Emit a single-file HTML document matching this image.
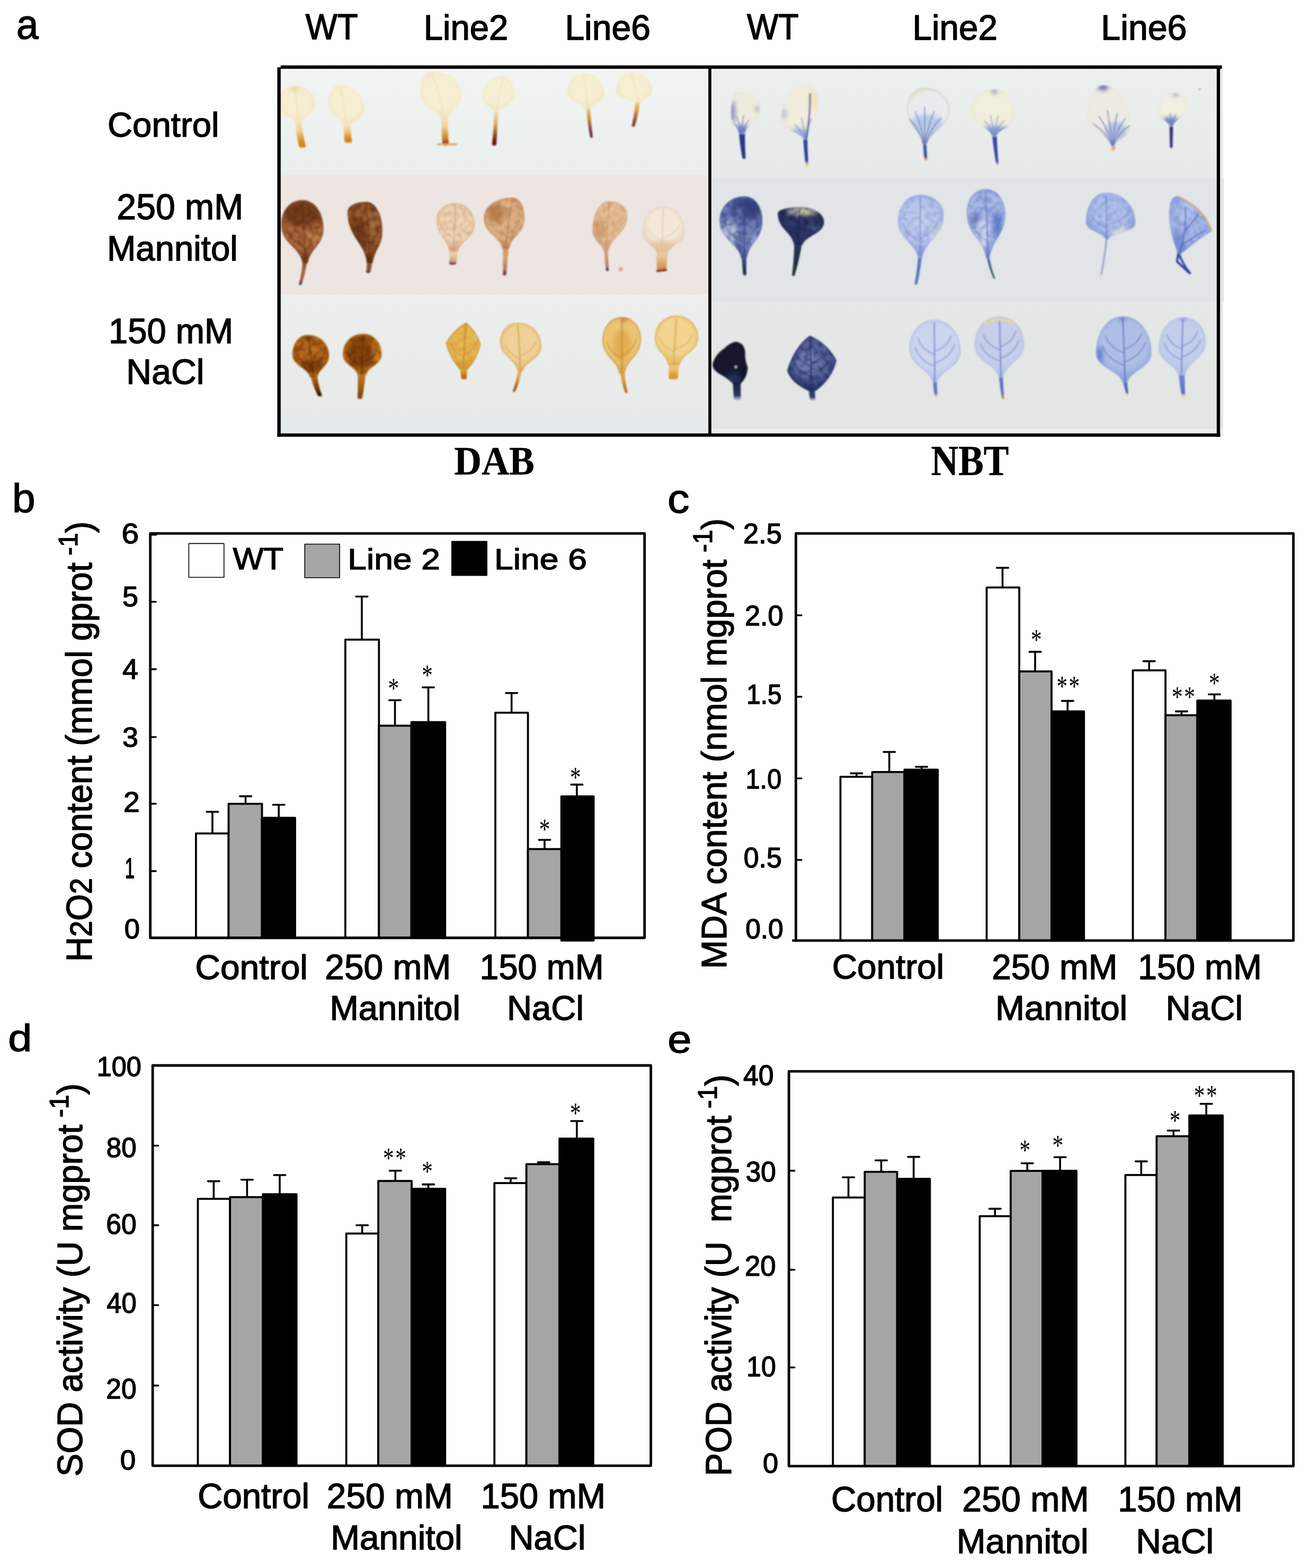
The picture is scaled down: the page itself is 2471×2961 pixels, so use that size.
<!DOCTYPE html>
<html lang="en"><head><meta charset="utf-8"><title>Figure: DAB / NBT staining and oxidative stress assays</title><style>html,body{margin:0;padding:0;background:#fff}body{width:2471px;height:2961px;overflow:hidden;font-family:"Liberation Sans",sans-serif}svg{display:block}</style></head><body>
<svg role="img" aria-label="Figure panels a-e: DAB and NBT leaf staining, H2O2 and MDA content, SOD and POD activity" width="2471" height="2961" viewBox="0 0 2471 2961" style="display:block"><defs><linearGradient id="bgA1" x1="0" y1="0" x2="0" y2="1"><stop offset="0" stop-color="#f1f4f2"/><stop offset="1" stop-color="#e9eeec"/></linearGradient><linearGradient id="bgA3" x1="0" y1="0" x2="0" y2="1"><stop offset="0" stop-color="#eceeed"/><stop offset="0.8" stop-color="#e8ebea"/><stop offset="1" stop-color="#e2e9ed"/></linearGradient><linearGradient id="bgB1" x1="0" y1="0" x2="0" y2="1"><stop offset="0" stop-color="#ebefed"/><stop offset="1" stop-color="#e6eae9"/></linearGradient><linearGradient id="bgB3" x1="0" y1="0" x2="0" y2="1"><stop offset="0" stop-color="#e4e8e6"/><stop offset="1" stop-color="#e2e5e3"/></linearGradient><filter id="bl" x="-20%" y="-20%" width="140%" height="140%"><feGaussianBlur stdDeviation="1.5"/></filter><filter id="bl5" x="-50%" y="-50%" width="200%" height="200%"><feGaussianBlur stdDeviation="4"/></filter><filter id="mot" x="0" y="0" width="100%" height="100%"><feTurbulence type="fractalNoise" baseFrequency="0.11" numOctaves="2" seed="7" result="n"/><feColorMatrix in="n" type="matrix" values="0 0 0 0 0 0 0 0 0 0 0 0 0 0 0 4.5 0 0 0 -1.9" result="a"/><feComposite in="SourceGraphic" in2="a" operator="in"/><feGaussianBlur stdDeviation="1"/></filter><radialGradient id="lg0" gradientUnits="userSpaceOnUse" cx="559.5" cy="191.98" r="38.34"><stop offset="0" stop-color="#f6eed2"/><stop offset="0.62" stop-color="#f6eed2"/><stop offset="1" stop-color="#f3e6c0"/></radialGradient><linearGradient id="lp0" gradientUnits="userSpaceOnUse" x1="563" y1="224" x2="571" y2="278.5"><stop offset="0" stop-color="#f3e6c0"/><stop offset="0.4" stop-color="#f0d49a"/><stop offset="0.82" stop-color="#d8861c"/><stop offset="0.93" stop-color="#d8861c"/></linearGradient><clipPath id="lc0"><path d="M556.4 163 C579.56 163 595 178.3 595 197 C595 214.5 572.84 217.3 569 232 L557 232 C552.32 217.3 524 214.5 524 197 C524 178.3 536.96 163 556.4 163Z"/></clipPath><radialGradient id="lg1" gradientUnits="userSpaceOnUse" cx="653.6" cy="193.75" r="41.2"><stop offset="0" stop-color="#f6eed2"/><stop offset="0.62" stop-color="#f6eed2"/><stop offset="1" stop-color="#f3e6c0"/></radialGradient><linearGradient id="lp1" gradientUnits="userSpaceOnUse" x1="655" y1="230" x2="657.5" y2="269.3"><stop offset="0" stop-color="#f3e6c0"/><stop offset="0.4" stop-color="#efd092"/><stop offset="0.82" stop-color="#d6861c"/><stop offset="0.93" stop-color="#d6861c"/></linearGradient><clipPath id="lc1"><path d="M641.8 161.7 C668.56 161.7 686.4 183.44 686.4 210 C686.4 224 665.27 226.24 661.5 238 L648.5 238 C644.4 219.73 620.8 216.25 620.8 194.5 C620.8 176.46 629.2 161.7 641.8 161.7Z"/></clipPath><radialGradient id="lg2" gradientUnits="userSpaceOnUse" cx="832" cy="172.36" r="47.52"><stop offset="0" stop-color="#f6eed2"/><stop offset="0.62" stop-color="#f6eed2"/><stop offset="1" stop-color="#f3e6c0"/></radialGradient><linearGradient id="lp2" gradientUnits="userSpaceOnUse" x1="838.7" y1="215.4" x2="841.3" y2="274.6"><stop offset="0" stop-color="#f3e6c0"/><stop offset="0.4" stop-color="#f0d49a"/><stop offset="0.82" stop-color="#c8741c"/><stop offset="0.93" stop-color="#8a3a14"/></linearGradient><clipPath id="lc2"><path d="M815 135.4 C848 135.4 870 154.93 870 178.8 C870 201.1 848.46 204.67 844.7 223.4 L832.7 223.4 C827.34 204.67 794 201.1 794 178.8 C794 154.93 802.4 135.4 815 135.4Z"/></clipPath><radialGradient id="lg3" gradientUnits="userSpaceOnUse" cx="940.7" cy="172.91" r="36.4"><stop offset="0" stop-color="#f6eed2"/><stop offset="0.62" stop-color="#f6eed2"/><stop offset="1" stop-color="#f3e6c0"/></radialGradient><linearGradient id="lp3" gradientUnits="userSpaceOnUse" x1="936.8" y1="204" x2="932.8" y2="274.6"><stop offset="0" stop-color="#f3e6c0"/><stop offset="0.4" stop-color="#e4b068"/><stop offset="0.82" stop-color="#7c2c0e"/><stop offset="0.93" stop-color="#5a1c0a"/></linearGradient><clipPath id="lc3"><path d="M949.9 144.6 C961.72 144.6 969.6 161.16 969.6 181.4 C969.6 196.7 944.24 199.15 940.3 212 L933.3 212 C930.3 200.24 911.8 198 911.8 184 C911.8 162.33 927.04 144.6 949.9 144.6Z"/></clipPath><radialGradient id="lg4" gradientUnits="userSpaceOnUse" cx="1106" cy="166.95" r="36.72"><stop offset="0" stop-color="#f6eed2"/><stop offset="0.62" stop-color="#f6eed2"/><stop offset="1" stop-color="#f3e6c0"/></radialGradient><linearGradient id="lp4" gradientUnits="userSpaceOnUse" x1="1110" y1="197" x2="1116.6" y2="260"><stop offset="0" stop-color="#f3e6c0"/><stop offset="0.4" stop-color="#d4923e"/><stop offset="0.82" stop-color="#6c3050"/><stop offset="0.93" stop-color="#6c3050"/></linearGradient><clipPath id="lc4"><path d="M1100.8 139.4 C1124.32 139.4 1140 157.13 1140 178.8 C1140 191.9 1117.6 194 1114 205 L1106 205 C1101.44 192.82 1072 190.5 1072 176 C1072 155.87 1083.52 139.4 1100.8 139.4Z"/></clipPath><radialGradient id="lg5" gradientUnits="userSpaceOnUse" cx="1197.3" cy="160.4" r="36.18"><stop offset="0" stop-color="#f6eed2"/><stop offset="0.62" stop-color="#f6eed2"/><stop offset="1" stop-color="#f3e6c0"/></radialGradient><linearGradient id="lp5" gradientUnits="userSpaceOnUse" x1="1204.5" y1="185" x2="1195.4" y2="239"><stop offset="0" stop-color="#f3e6c0"/><stop offset="0.4" stop-color="#e4a440"/><stop offset="0.82" stop-color="#8c4038"/><stop offset="0.93" stop-color="#8c4038"/></linearGradient><clipPath id="lc5"><path d="M1191.4 136.8 C1215.04 136.8 1230.8 153.31 1230.8 173.5 C1230.8 183.25 1212.16 184.81 1209 193 L1200 193 C1195.12 185.86 1163.8 184.5 1163.8 176 C1163.8 154.44 1174.84 136.8 1191.4 136.8Z"/></clipPath><radialGradient id="lg6" gradientUnits="userSpaceOnUse" cx="570.75" cy="427.79" r="63.5"><stop offset="0" stop-color="#aa683a"/><stop offset="0.62" stop-color="#aa683a"/><stop offset="1" stop-color="#7c4020"/></radialGradient><linearGradient id="lp6" gradientUnits="userSpaceOnUse" x1="576" y1="488" x2="566.8" y2="537.8"><stop offset="0" stop-color="#7c4020"/><stop offset="0.4" stop-color="#a66640"/><stop offset="0.82" stop-color="#9a5a44"/><stop offset="0.93" stop-color="#5a2c44"/></linearGradient><clipPath id="lc6"><path d="M570.3 378.4 C594.12 378.4 610 402.07 610 431 C610 463.5 584.58 468.7 580.5 496 L571.5 496 C566.16 465.76 531.5 460 531.5 424 C531.5 398.92 547.02 378.4 570.3 378.4Z"/></clipPath><radialGradient id="lg7" gradientUnits="userSpaceOnUse" cx="688.85" cy="429.88" r="61.56"><stop offset="0" stop-color="#9c5c2e"/><stop offset="0.62" stop-color="#9c5c2e"/><stop offset="1" stop-color="#643214"/></radialGradient><linearGradient id="lp7" gradientUnits="userSpaceOnUse" x1="698" y1="488" x2="695" y2="515"><stop offset="0" stop-color="#643214"/><stop offset="0.4" stop-color="#8c5030"/><stop offset="0.82" stop-color="#8a5040"/><stop offset="0.93" stop-color="#5a2c44"/></linearGradient><clipPath id="lc7"><path d="M691.4 382 C709.16 382 721 406.3 721 436 C721 466 705.76 470.8 703 496 L693 496 C688.04 455.68 656.7 448 656.7 400 C656.7 390.1 670.58 382 691.4 382Z"/></clipPath><radialGradient id="lg8" gradientUnits="userSpaceOnUse" cx="859.85" cy="422.03" r="48.38"><stop offset="0" stop-color="#eed6b6"/><stop offset="0.62" stop-color="#eed6b6"/><stop offset="1" stop-color="#dcae86"/></radialGradient><linearGradient id="lp8" gradientUnits="userSpaceOnUse" x1="856.5" y1="466" x2="854.5" y2="499.4"><stop offset="0" stop-color="#dcae86"/><stop offset="0.4" stop-color="#ecd0ac"/><stop offset="0.82" stop-color="#d0a080"/><stop offset="0.93" stop-color="#7a4058"/></linearGradient><clipPath id="lc8"><path d="M860.4 384.4 C881.28 384.4 895.2 402.22 895.2 424 C895.2 449 869.14 453 864.5 474 L848.5 474 C844.66 448.93 824.5 444.15 824.5 414.3 C824.5 397.86 838.86 384.4 860.4 384.4Z"/></clipPath><radialGradient id="lg9" gradientUnits="userSpaceOnUse" cx="951.75" cy="414.09" r="52.06"><stop offset="0" stop-color="#deb286"/><stop offset="0.62" stop-color="#deb286"/><stop offset="1" stop-color="#c89060"/></radialGradient><linearGradient id="lp9" gradientUnits="userSpaceOnUse" x1="954.7" y1="462" x2="952.4" y2="519.8"><stop offset="0" stop-color="#c89060"/><stop offset="0.4" stop-color="#d4a474"/><stop offset="0.82" stop-color="#b07858"/><stop offset="0.93" stop-color="#6a3448"/></linearGradient><clipPath id="lc9"><path d="M968 373.6 C980.9 373.6 989.5 390.88 989.5 412 C989.5 441 964.38 445.64 960.2 470 L949.2 470 C944.32 445.64 914 441 914 412 C914 390.88 935.6 373.6 968 373.6Z"/></clipPath><radialGradient id="lg10" gradientUnits="userSpaceOnUse" cx="1151.35" cy="419.94" r="50.33"><stop offset="0" stop-color="#e6c098"/><stop offset="0.62" stop-color="#e6c098"/><stop offset="1" stop-color="#d4a47c"/></radialGradient><linearGradient id="lp10" gradientUnits="userSpaceOnUse" x1="1144" y1="466" x2="1146.6" y2="511.4"><stop offset="0" stop-color="#d4a47c"/><stop offset="0.4" stop-color="#d49c7c"/><stop offset="0.82" stop-color="#b07868"/><stop offset="0.93" stop-color="#6a3450"/></linearGradient><clipPath id="lc10"><path d="M1150.2 380.8 C1170.3 380.8 1183.7 392.59 1183.7 407 C1183.7 440.5 1152.76 445.86 1148 474 L1140 474 C1137 458.04 1119 455 1119 436 C1119 405.64 1131.48 380.8 1150.2 380.8Z"/></clipPath><radialGradient id="lg11" gradientUnits="userSpaceOnUse" cx="1252.65" cy="426.29" r="46.28"><stop offset="0" stop-color="#f2e8da"/><stop offset="0.62" stop-color="#f2e8da"/><stop offset="1" stop-color="#e8ceb2"/></radialGradient><linearGradient id="lp11" gradientUnits="userSpaceOnUse" x1="1250" y1="468" x2="1248.5" y2="512.6"><stop offset="0" stop-color="#e8ceb2"/><stop offset="0.4" stop-color="#e6c494"/><stop offset="0.82" stop-color="#d09458"/><stop offset="0.93" stop-color="#d09458"/></linearGradient><clipPath id="lc11"><path d="M1252 390.3 C1275.76 390.3 1291.6 412.98 1291.6 440.7 C1291.6 458.35 1265.99 461.17 1261 476 L1239 476 C1234.64 461.17 1213.7 458.35 1213.7 440.7 C1213.7 412.98 1229.02 390.3 1252 390.3Z"/></clipPath><radialGradient id="lg12" gradientUnits="userSpaceOnUse" cx="586.55" cy="666.18" r="42.66"><stop offset="0" stop-color="#b4661c"/><stop offset="0.62" stop-color="#b4661c"/><stop offset="1" stop-color="#b87018"/></radialGradient><linearGradient id="lp12" gradientUnits="userSpaceOnUse" x1="592" y1="704" x2="604" y2="748"><stop offset="0" stop-color="#b87018"/><stop offset="0.4" stop-color="#9a5014"/><stop offset="0.82" stop-color="#5a2808"/><stop offset="0.93" stop-color="#2c1406"/></linearGradient><clipPath id="lc12"><path d="M581 633 C604.82 633 620.7 650.33 620.7 671.5 C620.7 691.75 601.94 694.99 598.5 712 L585.5 712 C580.75 693.94 552.4 690.5 552.4 669 C552.4 649.2 563.84 633 581 633Z"/></clipPath><radialGradient id="lg13" gradientUnits="userSpaceOnUse" cx="683.75" cy="663.22" r="41.69"><stop offset="0" stop-color="#a45a16"/><stop offset="0.62" stop-color="#a45a16"/><stop offset="1" stop-color="#c07a1e"/></radialGradient><linearGradient id="lp13" gradientUnits="userSpaceOnUse" x1="683" y1="700" x2="679.4" y2="753"><stop offset="0" stop-color="#c07a1e"/><stop offset="0.4" stop-color="#b06a1a"/><stop offset="0.82" stop-color="#8a4810"/><stop offset="0.93" stop-color="#8a4810"/></linearGradient><clipPath id="lc13"><path d="M685.4 630.8 C706.16 630.8 720 647.99 720 669 C720 688.5 694.94 691.62 690.5 708 L675.5 708 C671.24 691.62 647.5 688.5 647.5 669 C647.5 647.99 662.66 630.8 685.4 630.8Z"/></clipPath><radialGradient id="lg14" gradientUnits="userSpaceOnUse" cx="874.5" cy="646.35" r="46.22"><stop offset="0" stop-color="#e6b854"/><stop offset="0.62" stop-color="#e6b854"/><stop offset="1" stop-color="#d8a038"/></radialGradient><linearGradient id="lp14" gradientUnits="userSpaceOnUse" x1="875" y1="688" x2="876" y2="716"><stop offset="0" stop-color="#d8a038"/><stop offset="0.4" stop-color="#e0a038"/><stop offset="0.82" stop-color="#c06818"/><stop offset="0.93" stop-color="#c06818"/></linearGradient><clipPath id="lc14"><path d="M880 610 Q900 628 906.5 650 Q900 678 882 697 L868 697 Q848 672 842.5 648 Q858 622 880 610Z"/></clipPath><radialGradient id="lg15" gradientUnits="userSpaceOnUse" cx="982.85" cy="648.03" r="48.38"><stop offset="0" stop-color="#f0d096"/><stop offset="0.62" stop-color="#f0d096"/><stop offset="1" stop-color="#e6b86c"/></radialGradient><linearGradient id="lp15" gradientUnits="userSpaceOnUse" x1="982.3" y1="692" x2="970.3" y2="739.8"><stop offset="0" stop-color="#e6b86c"/><stop offset="0.4" stop-color="#e2aa54"/><stop offset="0.82" stop-color="#a85818"/><stop offset="0.93" stop-color="#a85818"/></linearGradient><clipPath id="lc15"><path d="M977.5 610.4 C1003.42 610.4 1020.7 630.34 1020.7 654.7 C1020.7 677.35 990.91 680.97 986.3 700 L978.3 700 C973.82 676.9 945 672.5 945 645 C945 625.97 958 610.4 977.5 610.4Z"/></clipPath><radialGradient id="lg16" gradientUnits="userSpaceOnUse" cx="1173.5" cy="643.45" r="56.38"><stop offset="0" stop-color="#ecc474"/><stop offset="0.62" stop-color="#ecc474"/><stop offset="1" stop-color="#e0ac50"/></radialGradient><linearGradient id="lp16" gradientUnits="userSpaceOnUse" x1="1174" y1="696" x2="1182.5" y2="742"><stop offset="0" stop-color="#e0ac50"/><stop offset="0.4" stop-color="#e0a242"/><stop offset="0.82" stop-color="#c07020"/><stop offset="0.93" stop-color="#c07020"/></linearGradient><clipPath id="lc16"><path d="M1174 599.6 C1195 599.6 1209 617.91 1209 640.3 C1209 672.15 1182.7 677.25 1178.5 704 L1169.5 704 C1165.18 678.25 1138 673.35 1138 642.7 C1138 619 1152.4 599.6 1174 599.6Z"/></clipPath><radialGradient id="lg17" gradientUnits="userSpaceOnUse" cx="1276.9" cy="635.22" r="49.14"><stop offset="0" stop-color="#f2d490"/><stop offset="0.62" stop-color="#f2d490"/><stop offset="1" stop-color="#e8bc68"/></radialGradient><linearGradient id="lp17" gradientUnits="userSpaceOnUse" x1="1272" y1="680" x2="1271" y2="716"><stop offset="0" stop-color="#e8bc68"/><stop offset="0.4" stop-color="#eec474"/><stop offset="0.82" stop-color="#dc9830"/><stop offset="0.93" stop-color="#dc9830"/></linearGradient><clipPath id="lc17"><path d="M1277 597 C1300.88 597 1316.8 615.45 1316.8 638 C1316.8 663 1287.38 667 1282 688 L1262 688 C1257.8 667 1237 663 1237 638 C1237 615.45 1253 597 1277 597Z"/></clipPath><radialGradient id="lg18" gradientUnits="userSpaceOnUse" cx="1407.1" cy="207.22" r="41.69"><stop offset="0" stop-color="#efebde"/><stop offset="0.62" stop-color="#efebde"/><stop offset="1" stop-color="#e4e4e0"/></radialGradient><linearGradient id="lp18" gradientUnits="userSpaceOnUse" x1="1400.3" y1="244" x2="1404.4" y2="299.5"><stop offset="0" stop-color="#2c3c90"/><stop offset="0.82" stop-color="#283480"/><stop offset="0.93" stop-color="#283480"/></linearGradient><clipPath id="lc18"><path d="M1392 174.8 C1417.5 174.8 1434.5 188.39 1434.5 205 C1434.5 228.5 1410.4 232.26 1406.3 252 L1394.3 252 C1391.83 236.88 1379.7 234 1379.7 216 C1379.7 193.34 1384.62 174.8 1392 174.8Z"/></clipPath><radialGradient id="lg19" gradientUnits="userSpaceOnUse" cx="1508.85" cy="203.63" r="54.81"><stop offset="0" stop-color="#f1ecdc"/><stop offset="0.62" stop-color="#f1ecdc"/><stop offset="1" stop-color="#e8e6dc"/></radialGradient><linearGradient id="lp19" gradientUnits="userSpaceOnUse" x1="1520" y1="254.5" x2="1523.6" y2="314.5"><stop offset="0" stop-color="#3848a0"/><stop offset="0.82" stop-color="#283890"/><stop offset="0.93" stop-color="#e8c890"/></linearGradient><clipPath id="lc19"><path d="M1526.3 161 C1536.92 161 1544 175.85 1544 194 C1544 228.25 1526.88 233.73 1524 262.5 L1516 262.5 C1510.44 248.68 1473.7 246.05 1473.7 229.6 C1473.7 191.87 1494.74 161 1526.3 161Z"/></clipPath><radialGradient id="lg20" gradientUnits="userSpaceOnUse" cx="1752.25" cy="211.46" r="57.67"><stop offset="0" stop-color="#e8ecf0"/><stop offset="0.62" stop-color="#e8ecf0"/><stop offset="1" stop-color="#d8c8a8"/></radialGradient><linearGradient id="lp20" gradientUnits="userSpaceOnUse" x1="1745.5" y1="265.4" x2="1748" y2="303.6"><stop offset="0" stop-color="#5068b8"/><stop offset="0.82" stop-color="#384898"/><stop offset="0.93" stop-color="#eca860"/></linearGradient><clipPath id="lc20"><path d="M1745.5 166.6 C1773.1 166.6 1791.5 185.09 1791.5 207.7 C1791.5 240.55 1754.52 245.81 1749 273.4 L1742 273.4 C1738.1 244.67 1713 239.2 1713 205 C1713 183.88 1726 166.6 1745.5 166.6Z"/></clipPath><radialGradient id="lg21" gradientUnits="userSpaceOnUse" cx="1875.15" cy="206.13" r="47.36"><stop offset="0" stop-color="#f2eedc"/><stop offset="0.62" stop-color="#f2eedc"/><stop offset="1" stop-color="#ece8d4"/></radialGradient><linearGradient id="lp21" gradientUnits="userSpaceOnUse" x1="1877" y1="249" x2="1883.8" y2="317.3"><stop offset="0" stop-color="#3448a8"/><stop offset="0.82" stop-color="#3848a0"/><stop offset="0.93" stop-color="#f0e8d0"/></linearGradient><clipPath id="lc21"><path d="M1877 169.3 C1899.98 169.3 1915.3 192.75 1915.3 221.4 C1915.3 239.2 1886.1 242.05 1881.5 257 L1872.5 257 C1867.46 238.1 1835 234.5 1835 212 C1835 188.52 1851.8 169.3 1877 169.3Z"/></clipPath><radialGradient id="lg22" gradientUnits="userSpaceOnUse" cx="2093.35" cy="208.88" r="61.56"><stop offset="0" stop-color="#eeece2"/><stop offset="0.62" stop-color="#eeece2"/><stop offset="1" stop-color="#e8e4d4"/></radialGradient><linearGradient id="lp22" gradientUnits="userSpaceOnUse" x1="2101.6" y1="267" x2="2101.6" y2="284.4"><stop offset="0" stop-color="#8090c8"/><stop offset="0.82" stop-color="#ecb070"/><stop offset="0.93" stop-color="#ecb070"/></linearGradient><clipPath id="lc22"><path d="M2082.5 161 C2112.8 161 2133 198.03 2133 243.3 C2133 259.15 2109.37 261.69 2105.6 275 L2097.6 275 C2091.85 253.58 2053.7 249.5 2053.7 224 C2053.7 189.35 2065.22 161 2082.5 161Z"/></clipPath><radialGradient id="lg23" gradientUnits="userSpaceOnUse" cx="2214" cy="202.04" r="33.48"><stop offset="0" stop-color="#f1efe2"/><stop offset="0.62" stop-color="#f1efe2"/><stop offset="1" stop-color="#ebe8d8"/></radialGradient><linearGradient id="lp23" gradientUnits="userSpaceOnUse" x1="2211" y1="230" x2="2211" y2="279"><stop offset="0" stop-color="#2c3080"/><stop offset="0.82" stop-color="#3c3088"/><stop offset="0.93" stop-color="#3c3088"/></linearGradient><clipPath id="lc23"><path d="M2219.5 176 C2232.64 176 2241.4 187.7 2241.4 202 C2241.4 220 2218.15 222.88 2214.5 238 L2207.5 238 C2204.57 227.5 2186.6 225.5 2186.6 213 C2186.6 192.65 2199.76 176 2219.5 176Z"/></clipPath><radialGradient id="lg24" gradientUnits="userSpaceOnUse" cx="1398.8" cy="420.43" r="62.91"><stop offset="0" stop-color="#6c7cb8"/><stop offset="0.62" stop-color="#6c7cb8"/><stop offset="1" stop-color="#5060a4"/></radialGradient><linearGradient id="lp24" gradientUnits="userSpaceOnUse" x1="1404.4" y1="480" x2="1405.8" y2="519.5"><stop offset="0" stop-color="#4858a0"/><stop offset="0.82" stop-color="#183048"/><stop offset="0.93" stop-color="#183048"/></linearGradient><clipPath id="lc24"><path d="M1405.8 371.5 C1425.48 371.5 1438.6 391.84 1438.6 416.7 C1438.6 452.35 1413 458.05 1408.9 488 L1399.9 488 C1394.45 458.05 1359 452.35 1359 416.7 C1359 391.84 1377.72 371.5 1405.8 371.5Z"/></clipPath><radialGradient id="lg25" gradientUnits="userSpaceOnUse" cx="1511.9" cy="421.4" r="46.55"><stop offset="0" stop-color="#303868"/><stop offset="0.62" stop-color="#303868"/><stop offset="1" stop-color="#262c58"/></radialGradient><linearGradient id="lp25" gradientUnits="userSpaceOnUse" x1="1507" y1="454" x2="1497.5" y2="520.8"><stop offset="0" stop-color="#283058"/><stop offset="0.82" stop-color="#1c3040"/><stop offset="0.93" stop-color="#1c3040"/></linearGradient><clipPath id="lc25"><path d="M1510 392 C1537 392 1555 404.38 1555 419.5 C1555 440.75 1520.26 444.15 1514.5 462 L1499.5 462 C1494.92 437.22 1468.8 432.5 1468.8 403 C1468.8 396.95 1485.28 392 1510 392Z"/></clipPath><radialGradient id="lg26" gradientUnits="userSpaceOnUse" cx="1738.25" cy="418.44" r="63.83"><stop offset="0" stop-color="#b8c6ea"/><stop offset="0.62" stop-color="#b8c6ea"/><stop offset="1" stop-color="#8ca2dc"/></radialGradient><linearGradient id="lp26" gradientUnits="userSpaceOnUse" x1="1737" y1="479" x2="1729" y2="537"><stop offset="0" stop-color="#6078c0"/><stop offset="0.82" stop-color="#5870b8"/><stop offset="0.93" stop-color="#5870b8"/></linearGradient><clipPath id="lc26"><path d="M1737.3 368.8 C1763.22 368.8 1780.5 385.45 1780.5 405.8 C1780.5 446.4 1745.72 452.9 1740.5 487 L1733.5 487 C1728.58 457.47 1696 451.85 1696 416.7 C1696 390.36 1712.52 368.8 1737.3 368.8Z"/></clipPath><radialGradient id="lg27" gradientUnits="userSpaceOnUse" cx="1861.25" cy="412.48" r="70.31"><stop offset="0" stop-color="#a8b8e4"/><stop offset="0.62" stop-color="#a8b8e4"/><stop offset="1" stop-color="#7890d4"/></radialGradient><linearGradient id="lp27" gradientUnits="userSpaceOnUse" x1="1864.7" y1="480" x2="1877" y2="526.3"><stop offset="0" stop-color="#4c6c98"/><stop offset="0.82" stop-color="#2c5060"/><stop offset="0.93" stop-color="#2c5060"/></linearGradient><clipPath id="lc27"><path d="M1860.5 357.8 C1882.4 357.8 1897 378.14 1897 403 C1897 445.5 1871.08 452.3 1867.2 488 L1862.2 488 C1857.5 451.04 1825.5 444 1825.5 400 C1825.5 376.79 1839.5 357.8 1860.5 357.8Z"/></clipPath><radialGradient id="lg28" gradientUnits="userSpaceOnUse" cx="2096.55" cy="401.37" r="49.84"><stop offset="0" stop-color="#b0c0e8"/><stop offset="0.62" stop-color="#b0c0e8"/><stop offset="1" stop-color="#8ca2dc"/></radialGradient><linearGradient id="lp28" gradientUnits="userSpaceOnUse" x1="2089.3" y1="444" x2="2078.4" y2="519.5"><stop offset="0" stop-color="#a4b2d4"/><stop offset="0.82" stop-color="#8c98c0"/><stop offset="0.93" stop-color="#8c98c0"/></linearGradient><clipPath id="lc28"><path d="M2088 364.7 C2120.82 364.7 2142.7 390.49 2142.7 422 C2142.7 437 2097.71 439.4 2091.3 452 L2087.3 452 C2082.63 438.35 2050.4 435.75 2050.4 419.5 C2050.4 389.36 2065.44 364.7 2088 364.7Z"/></clipPath><radialGradient id="lg29" gradientUnits="userSpaceOnUse" cx="2247.55" cy="416.2" r="59.4"><stop offset="0" stop-color="#a4b6e6"/><stop offset="0.62" stop-color="#a4b6e6"/><stop offset="1" stop-color="#8098d8"/></radialGradient><linearGradient id="lp29" gradientUnits="userSpaceOnUse" x1="2224" y1="472" x2="2246.8" y2="516.7"><stop offset="0" stop-color="#3850a8"/><stop offset="0.82" stop-color="#3048a0"/><stop offset="0.93" stop-color="#3048a0"/></linearGradient><clipPath id="lc29"><path d="M2221 371 Q2272 392 2287 436 Q2260 452 2226 482 Q2203 430 2209 388 Q2212 373 2221 371Z"/></clipPath><radialGradient id="lg30" gradientUnits="userSpaceOnUse" cx="1378.25" cy="678.76" r="42.12"><stop offset="0" stop-color="#13172f"/><stop offset="0.62" stop-color="#13172f"/><stop offset="1" stop-color="#0c1028"/></radialGradient><linearGradient id="lp30" gradientUnits="userSpaceOnUse" x1="1390.7" y1="716" x2="1392" y2="754.4"><stop offset="0" stop-color="#161a38"/><stop offset="0.82" stop-color="#2c3864"/><stop offset="0.93" stop-color="#8c98b8"/></linearGradient><clipPath id="lc30"><path d="M1389 646 Q1404 648 1406 664 Q1405 680 1411 694 Q1410 712 1398 724 L1384 724 Q1372 712 1356 704 Q1344 696 1346 686 Q1352 668 1368 658 Q1378 648 1389 646Z"/></clipPath><radialGradient id="lg31" gradientUnits="userSpaceOnUse" cx="1532.5" cy="677.84" r="55.08"><stop offset="0" stop-color="#56649c"/><stop offset="0.62" stop-color="#56649c"/><stop offset="1" stop-color="#2c3870"/></radialGradient><linearGradient id="lp31" gradientUnits="userSpaceOnUse" x1="1532" y1="729" x2="1534.5" y2="755.8"><stop offset="0" stop-color="#283468"/><stop offset="0.82" stop-color="#34407c"/><stop offset="0.93" stop-color="#a8a0a8"/></linearGradient><clipPath id="lc31"><path d="M1529 635 Q1562 650 1578 681 Q1570 714 1540 737 L1526 737 Q1494 722 1487 700 Q1500 656 1529 635Z"/></clipPath><radialGradient id="lg32" gradientUnits="userSpaceOnUse" cx="1765.05" cy="654.14" r="63.18"><stop offset="0" stop-color="#ccd4ee"/><stop offset="0.62" stop-color="#ccd4ee"/><stop offset="1" stop-color="#b4c0e6"/></radialGradient><linearGradient id="lp32" gradientUnits="userSpaceOnUse" x1="1764.7" y1="714" x2="1767.4" y2="750.3"><stop offset="0" stop-color="#6c7cc8"/><stop offset="0.82" stop-color="#6070c0"/><stop offset="0.93" stop-color="#e4d890"/></linearGradient><clipPath id="lc32"><path d="M1763.3 605 C1792.88 605 1812.6 631.55 1812.6 664 C1812.6 693 1774.45 697.64 1768.7 722 L1760.7 722 C1755.04 695.33 1717.5 690.25 1717.5 658.5 C1717.5 629.08 1735.82 605 1763.3 605Z"/></clipPath><radialGradient id="lg33" gradientUnits="userSpaceOnUse" cx="1886.3" cy="646" r="61.45"><stop offset="0" stop-color="#c6ceea"/><stop offset="0.62" stop-color="#c6ceea"/><stop offset="1" stop-color="#b4c0e6"/></radialGradient><linearGradient id="lp33" gradientUnits="userSpaceOnUse" x1="1889.3" y1="704" x2="1893.4" y2="753"><stop offset="0" stop-color="#6c7cc8"/><stop offset="0.82" stop-color="#5c6cc0"/><stop offset="0.93" stop-color="#b88848"/></linearGradient><clipPath id="lc33"><path d="M1886.6 598.2 C1914.2 598.2 1932.6 621.64 1932.6 650.3 C1932.6 681.15 1898.5 686.09 1893.3 712 L1885.3 712 C1879.38 687.22 1840 682.5 1840 653 C1840 622.86 1858.64 598.2 1886.6 598.2Z"/></clipPath><radialGradient id="lg34" gradientUnits="userSpaceOnUse" cx="2121.25" cy="650.2" r="66.85"><stop offset="0" stop-color="#aebee6"/><stop offset="0.62" stop-color="#aebee6"/><stop offset="1" stop-color="#8ca0dc"/></radialGradient><linearGradient id="lp34" gradientUnits="userSpaceOnUse" x1="2123.6" y1="714" x2="2129" y2="747.5"><stop offset="0" stop-color="#5870c0"/><stop offset="0.82" stop-color="#5068b8"/><stop offset="0.93" stop-color="#ecdca8"/></linearGradient><clipPath id="lc34"><path d="M2119.5 598.2 C2151.54 598.2 2172.9 629.03 2172.9 666.7 C2172.9 694.35 2133.52 698.77 2127.6 722 L2119.6 722 C2113.12 698.77 2069.6 694.35 2069.6 666.7 C2069.6 629.03 2089.56 598.2 2119.5 598.2Z"/></clipPath><radialGradient id="lg35" gradientUnits="userSpaceOnUse" cx="2231.8" cy="645.13" r="58.54"><stop offset="0" stop-color="#c2ceea"/><stop offset="0.62" stop-color="#c2ceea"/><stop offset="1" stop-color="#b0bee6"/></radialGradient><linearGradient id="lp35" gradientUnits="userSpaceOnUse" x1="2230.4" y1="700" x2="2234.5" y2="751.6"><stop offset="0" stop-color="#7c8cd0"/><stop offset="0.82" stop-color="#5c6cc4"/><stop offset="0.93" stop-color="#ecd8a0"/></linearGradient><clipPath id="lc35"><path d="M2233 599.6 C2258.56 599.6 2275.6 619.94 2275.6 644.8 C2275.6 676.4 2241.82 681.46 2236.4 708 L2224.4 708 C2219.31 687.21 2188 683.25 2188 658.5 C2188 626.11 2206 599.6 2233 599.6Z"/></clipPath></defs><rect width="2471" height="2961" fill="#fff"/><g id="photo">
<rect x="527" y="126" width="813" height="205" fill="url(#bgA1)"/>
<rect x="527" y="331" width="813" height="226.5" fill="#ece5e2"/>
<rect x="527" y="557.5" width="813" height="264.5" fill="url(#bgA3)"/>
<rect x="1340" y="126" width="969" height="210" fill="url(#bgB1)"/>
<rect x="1340" y="336" width="970" height="234" fill="#e2e5e7"/>
<rect x="1340" y="570" width="969" height="252" fill="url(#bgB3)"/>
<rect x="1340" y="809.5" width="969" height="10" fill="#e9eeee"/>
<g filter="url(#bl)">
<path d="M557 226 Q559.31 255.25 564.5 277.5 Q571 280.5 577.5 277.5 Q571.81 255.25 569 226Z" fill="url(#lp0)"/>
<path d="M556.4 163 C579.56 163 595 178.3 595 197 C595 214.5 572.84 217.3 569 232 L557 232 C552.32 217.3 524 214.5 524 197 C524 178.3 536.96 163 556.4 163Z" fill="url(#lg0)" opacity="1.0" stroke="#f3e6c0" stroke-width="1.4" stroke-opacity="0.85"/>
<g clip-path="url(#lc0)">
<g filter="url(#bl5)">
<ellipse cx="556" cy="167" rx="10" ry="5" fill="#eccb86" opacity="0.7"/>
</g>
<path d="M563 232 Q561.02 197.5 556.4 167" fill="none" stroke="#ecd49c" stroke-width="2.4" opacity="0.5"/>
</g>
</g>
<g filter="url(#bl)">
<path d="M648.5 232 Q649.05 253.65 650.5 268.3 Q657.5 271.3 664.5 268.3 Q662.55 253.65 661.5 232Z" fill="url(#lp1)"/>
<path d="M641.8 161.7 C668.56 161.7 686.4 183.44 686.4 210 C686.4 224 665.27 226.24 661.5 238 L648.5 238 C644.4 219.73 620.8 216.25 620.8 194.5 C620.8 176.46 629.2 161.7 641.8 161.7Z" fill="url(#lg1)" opacity="1.0" stroke="#f3e6c0" stroke-width="1.4" stroke-opacity="0.85"/>
<g clip-path="url(#lc1)">
<path d="M655 238 Q651.04 199.85 641.8 165.7" fill="none" stroke="#ecd49c" stroke-width="2.4" opacity="0.5"/>
</g>
</g>
<g filter="url(#bl)">
<path d="M832.7 217.4 Q833.53 249 835.3 273.6 Q841.3 276.6 847.3 273.6 Q845.53 249 844.7 217.4Z" fill="url(#lp2)"/>
<path d="M815 135.4 C848 135.4 870 154.93 870 178.8 C870 201.1 848.46 204.67 844.7 223.4 L832.7 223.4 C827.34 204.67 794 201.1 794 178.8 C794 154.93 802.4 135.4 815 135.4Z" fill="url(#lg2)" opacity="1.0" stroke="#f3e6c0" stroke-width="1.4" stroke-opacity="0.85"/>
<g clip-path="url(#lc2)">
<path d="M838.7 223.4 Q831.59 179.4 815 139.4" fill="none" stroke="#eedaa6" stroke-width="2.4" opacity="0.5"/>
</g>
<path d="M826 272.5H862" stroke="#dfa468" stroke-width="3.5" stroke-linecap="round" fill="none"/>
</g>
<g filter="url(#bl)">
<path d="M933.3 206 Q931.77 243.3 928.8 273.6 Q932.8 276.6 936.8 273.6 Q939.27 243.3 940.3 206Z" fill="url(#lp3)"/>
<path d="M949.9 144.6 C961.72 144.6 969.6 161.16 969.6 181.4 C969.6 196.7 944.24 199.15 940.3 212 L933.3 212 C930.3 200.24 911.8 198 911.8 184 C911.8 162.33 927.04 144.6 949.9 144.6Z" fill="url(#lg3)" opacity="1.0" stroke="#f3e6c0" stroke-width="1.4" stroke-opacity="0.85"/>
<g clip-path="url(#lc3)">
<path d="M936.8 212 Q940.73 178.3 949.9 148.6" fill="none" stroke="#eedcae" stroke-width="2.4" opacity="0.5"/>
</g>
</g>
<g filter="url(#bl)">
<path d="M1106 199 Q1108.86 232.5 1114.1 259 Q1116.6 262 1119.1 259 Q1115.36 232.5 1114 199Z" fill="url(#lp4)"/>
<path d="M1100.8 139.4 C1124.32 139.4 1140 157.13 1140 178.8 C1140 191.9 1117.6 194 1114 205 L1106 205 C1101.44 192.82 1072 190.5 1072 176 C1072 155.87 1083.52 139.4 1100.8 139.4Z" fill="url(#lg4)" opacity="1.0" stroke="#f3e6c0" stroke-width="1.4" stroke-opacity="0.85"/>
<g clip-path="url(#lc4)">
<path d="M1110 205 Q1107.24 172.2 1100.8 143.4" fill="none" stroke="#eedaa6" stroke-width="2.4" opacity="0.5"/>
</g>
</g>
<g filter="url(#bl)">
<path d="M1200 187 Q1197.84 216 1192.4 238 Q1195.4 241 1198.4 238 Q1205.34 216 1209 187Z" fill="url(#lp5)"/>
<path d="M1191.4 136.8 C1215.04 136.8 1230.8 153.31 1230.8 173.5 C1230.8 183.25 1212.16 184.81 1209 193 L1200 193 C1195.12 185.86 1163.8 184.5 1163.8 176 C1163.8 154.44 1174.84 136.8 1191.4 136.8Z" fill="url(#lg5)" opacity="1.0" stroke="#f3e6c0" stroke-width="1.4" stroke-opacity="0.85"/>
<g clip-path="url(#lc5)">
<path d="M1204.5 193 Q1200.57 164.9 1191.4 140.8" fill="none" stroke="#eedaa6" stroke-width="2.4" opacity="0.5"/>
</g>
</g>
<g filter="url(#bl)">
<path d="M571.5 490 Q569.56 516.9 564.3 536.8 Q566.8 539.8 569.3 536.8 Q576.56 516.9 580.5 490Z" fill="url(#lp6)"/>
<path d="M570.3 378.4 C594.12 378.4 610 402.07 610 431 C610 463.5 584.58 468.7 580.5 496 L571.5 496 C566.16 465.76 531.5 460 531.5 424 C531.5 398.92 547.02 378.4 570.3 378.4Z" fill="url(#lg6)" opacity="1.0" stroke="#7c4020" stroke-width="1.4" stroke-opacity="0.85"/>
<g clip-path="url(#lc6)">
<g filter="url(#bl5)">
<ellipse cx="570" cy="404" rx="36" ry="24" fill="#6c3616" opacity="0.85"/>
<ellipse cx="592" cy="448" rx="17" ry="15" fill="#cc8c54" opacity="0.6"/>
</g>
<path d="M570.3 378.4 C594.12 378.4 610 402.07 610 431 C610 463.5 584.58 468.7 580.5 496 L571.5 496 C566.16 465.76 531.5 460 531.5 424 C531.5 398.92 547.02 378.4 570.3 378.4Z" fill="#5a2a10" filter="url(#mot)" opacity="0.5"/>
<path d="M576 496 Q574.29 437.2 570.3 382.4" fill="none" stroke="#5e2c12" stroke-width="2.4" opacity="0.5"/>
<path d="M574.52 465.42 Q547.67 454.84 540.96 430.14" fill="none" stroke="#5e2c12" stroke-width="1.8" opacity="0.42"/>
<path d="M574.23 459.54 Q596.55 448.96 602.13 424.26" fill="none" stroke="#5e2c12" stroke-width="1.8" opacity="0.42"/>
</g>
</g>
<g filter="url(#bl)">
<path d="M693 490 Q692.54 505.5 691 514 Q695 517 699 514 Q701.54 505.5 703 490Z" fill="url(#lp7)"/>
<path d="M691.4 382 C709.16 382 721 406.3 721 436 C721 466 705.76 470.8 703 496 L693 496 C688.04 455.68 656.7 448 656.7 400 C656.7 390.1 670.58 382 691.4 382Z" fill="url(#lg7)" opacity="1.0" stroke="#643214" stroke-width="1.4" stroke-opacity="0.85"/>
<g clip-path="url(#lc7)">
<g filter="url(#bl5)">
<ellipse cx="678" cy="440" rx="18" ry="30" fill="#6a3414" opacity="0.7"/>
<ellipse cx="700" cy="420" rx="10" ry="20" fill="#c08048" opacity="0.5"/>
</g>
<path d="M691.4 382 C709.16 382 721 406.3 721 436 C721 466 705.76 470.8 703 496 L693 496 C688.04 455.68 656.7 448 656.7 400 C656.7 390.1 670.58 382 691.4 382Z" fill="#4e220c" filter="url(#mot)" opacity="0.5"/>
<path d="M698 496 Q696.02 439 691.4 386" fill="none" stroke="#54260e" stroke-width="2.4" opacity="0.5"/>
<path d="M696.28 466.36 Q671.58 456.1 665.41 432.16" fill="none" stroke="#54260e" stroke-width="1.8" opacity="0.42"/>
<path d="M695.95 460.66 Q711.58 450.4 715.49 426.46" fill="none" stroke="#54260e" stroke-width="1.8" opacity="0.42"/>
</g>
</g>
<g filter="url(#bl)">
<path d="M848.5 468 Q848.61 486.7 848 498.4 Q854.5 501.4 861 498.4 Q863.11 486.7 864.5 468Z" fill="url(#lp8)"/>
<path d="M860.4 384.4 C881.28 384.4 895.2 402.22 895.2 424 C895.2 449 869.14 453 864.5 474 L848.5 474 C844.66 448.93 824.5 444.15 824.5 414.3 C824.5 397.86 838.86 384.4 860.4 384.4Z" fill="url(#lg8)" opacity="1.0" stroke="#dcae86" stroke-width="1.4" stroke-opacity="0.85"/>
<g clip-path="url(#lc8)">
<path d="M860.4 384.4 C881.28 384.4 895.2 402.22 895.2 424 C895.2 449 869.14 453 864.5 474 L848.5 474 C844.66 448.93 824.5 444.15 824.5 414.3 C824.5 397.86 838.86 384.4 860.4 384.4Z" fill="#c07858" filter="url(#mot)" opacity="0.28"/>
<path d="M856.5 474 Q857.67 429.2 860.4 388.4" fill="none" stroke="#c88c70" stroke-width="2.4" opacity="0.45"/>
<path d="M857.51 450.7 Q836.91 442.64 831.76 423.82" fill="none" stroke="#c88c70" stroke-width="1.8" opacity="0.38"/>
<path d="M857.71 446.22 Q881.1 438.16 886.95 419.34" fill="none" stroke="#c88c70" stroke-width="1.8" opacity="0.38"/>
</g>
</g>
<g filter="url(#bl)">
<path d="M949.2 464 Q949.71 494.9 949.4 518.8 Q952.4 521.8 955.4 518.8 Q958.21 494.9 960.2 464Z" fill="url(#lp9)"/>
<path d="M968 373.6 C980.9 373.6 989.5 390.88 989.5 412 C989.5 441 964.38 445.64 960.2 470 L949.2 470 C944.32 445.64 914 441 914 412 C914 390.88 935.6 373.6 968 373.6Z" fill="url(#lg9)" opacity="1.0" stroke="#c89060" stroke-width="1.4" stroke-opacity="0.85"/>
<g clip-path="url(#lc9)">
<g filter="url(#bl5)">
<ellipse cx="936" cy="402" rx="18" ry="18" fill="#b07848" opacity="0.75"/>
</g>
<path d="M968 373.6 C980.9 373.6 989.5 390.88 989.5 412 C989.5 441 964.38 445.64 960.2 470 L949.2 470 C944.32 445.64 914 441 914 412 C914 390.88 935.6 373.6 968 373.6Z" fill="#a06030" filter="url(#mot)" opacity="0.35"/>
<path d="M954.7 470 Q958.69 421.8 968 377.6" fill="none" stroke="#a8683c" stroke-width="2.4" opacity="0.45"/>
<path d="M958.16 444.94 Q930.6 436.26 923.71 416.02" fill="none" stroke="#a8683c" stroke-width="1.8" opacity="0.38"/>
<path d="M958.82 440.12 Q977.97 431.44 982.75 411.2" fill="none" stroke="#a8683c" stroke-width="1.8" opacity="0.38"/>
</g>
</g>
<g filter="url(#bl)">
<path d="M1140 468 Q1141.58 492.7 1144.1 510.4 Q1146.6 513.4 1149.1 510.4 Q1148.08 492.7 1148 468Z" fill="url(#lp10)"/>
<path d="M1150.2 380.8 C1170.3 380.8 1183.7 392.59 1183.7 407 C1183.7 440.5 1152.76 445.86 1148 474 L1140 474 C1137 458.04 1119 455 1119 436 C1119 405.64 1131.48 380.8 1150.2 380.8Z" fill="url(#lg10)" opacity="1.0" stroke="#d4a47c" stroke-width="1.4" stroke-opacity="0.85"/>
<g clip-path="url(#lc10)">
<g filter="url(#bl5)">
<ellipse cx="1131" cy="432" rx="11" ry="20" fill="#c89060" opacity="0.6"/>
</g>
<path d="M1150.2 380.8 C1170.3 380.8 1183.7 392.59 1183.7 407 C1183.7 440.5 1152.76 445.86 1148 474 L1140 474 C1137 458.04 1119 455 1119 436 C1119 405.64 1131.48 380.8 1150.2 380.8Z" fill="#b87850" filter="url(#mot)" opacity="0.3"/>
<path d="M1144 474 Q1145.86 427.4 1150.2 384.8" fill="none" stroke="#b87858" stroke-width="2.4" opacity="0.4"/>
<path d="M1145.61 449.77 Q1129.01 441.38 1124.85 421.81" fill="none" stroke="#b87858" stroke-width="1.8" opacity="0.34"/>
<path d="M1145.92 445.11 Q1169.5 436.72 1175.39 417.15" fill="none" stroke="#b87858" stroke-width="1.8" opacity="0.34"/>
</g>
<circle cx="1171.7" cy="508.5" r="4" fill="#dca898"/>
</g>
<g filter="url(#bl)">
<path d="M1239 470 Q1239.77 494.3 1240 511.6 Q1248.5 514.6 1257 511.6 Q1259.27 494.3 1261 470Z" fill="url(#lp11)"/>
<path d="M1252 390.3 C1275.76 390.3 1291.6 412.98 1291.6 440.7 C1291.6 458.35 1265.99 461.17 1261 476 L1239 476 C1234.64 461.17 1213.7 458.35 1213.7 440.7 C1213.7 412.98 1229.02 390.3 1252 390.3Z" fill="url(#lg11)" opacity="1.0" stroke="#e8ceb2" stroke-width="1.4" stroke-opacity="0.85"/>
<g clip-path="url(#lc11)">
<g filter="url(#bl5)">
<ellipse cx="1250" cy="468" rx="30" ry="13" fill="#e2bc8c" opacity="0.7"/>
</g>
<path d="M1250 476 Q1250.6 433.15 1252 394.3" fill="none" stroke="#dcb490" stroke-width="2.4" opacity="0.5"/>
<path d="M1250.52 453.72 Q1227.54 446 1221.8 428.01" fill="none" stroke="#dcb490" stroke-width="1.8" opacity="0.42"/>
<path d="M1250.62 449.43 Q1276.19 441.72 1282.58 423.72" fill="none" stroke="#dcb490" stroke-width="1.8" opacity="0.42"/>
</g>
<path d="M1241 511.5L1257 509.5" stroke="#8a3c22" stroke-width="4.5" stroke-linecap="round" fill="none"/>
</g>
<g filter="url(#bl)">
<path d="M585.5 706 Q590.59 730 600 747 Q604 750 608 747 Q601.09 730 598.5 706Z" fill="url(#lp12)"/>
<path d="M581 633 C604.82 633 620.7 650.33 620.7 671.5 C620.7 691.75 601.94 694.99 598.5 712 L585.5 712 C580.75 693.94 552.4 690.5 552.4 669 C552.4 649.2 563.84 633 581 633Z" fill="url(#lg12)" opacity="1.0" stroke="#b87018" stroke-width="1.4" stroke-opacity="0.85"/>
<g clip-path="url(#lc12)">
<g filter="url(#bl5)">
<ellipse cx="586" cy="692" rx="22" ry="13" fill="#6a3008" opacity="0.7"/>
<ellipse cx="581" cy="638" rx="6" ry="4" fill="#4a2008" opacity="0.9"/>
<ellipse cx="585" cy="660" rx="14" ry="12" fill="#cc8028" opacity="0.5"/>
</g>
<path d="M581 633 C604.82 633 620.7 650.33 620.7 671.5 C620.7 691.75 601.94 694.99 598.5 712 L585.5 712 C580.75 693.94 552.4 690.5 552.4 669 C552.4 649.2 563.84 633 581 633Z" fill="#5a2606" filter="url(#mot)" opacity="0.5"/>
<path d="M592 712 Q588.7 672.5 581 637" fill="none" stroke="#5a2808" stroke-width="2.4" opacity="0.6"/>
<path d="M589.14 691.46 Q566.21 684.35 560.48 667.76" fill="none" stroke="#5a2808" stroke-width="1.8" opacity="0.51"/>
<path d="M588.59 687.51 Q608.63 680.4 613.64 663.81" fill="none" stroke="#5a2808" stroke-width="1.8" opacity="0.51"/>
</g>
</g>
<g filter="url(#bl)">
<path d="M675.5 702 Q675.85 730.5 674.9 752 Q679.4 755 683.9 752 Q687.85 730.5 690.5 702Z" fill="url(#lp13)"/>
<path d="M685.4 630.8 C706.16 630.8 720 647.99 720 669 C720 688.5 694.94 691.62 690.5 708 L675.5 708 C671.24 691.62 647.5 688.5 647.5 669 C647.5 647.99 662.66 630.8 685.4 630.8Z" fill="url(#lg13)" opacity="1.0" stroke="#c07a1e" stroke-width="1.4" stroke-opacity="0.85"/>
<g clip-path="url(#lc13)">
<g filter="url(#bl5)">
<ellipse cx="680" cy="668" rx="24" ry="30" fill="#6e340a" opacity="0.55"/>
<ellipse cx="713" cy="660" rx="7" ry="24" fill="#dc9424" opacity="0.8"/>
</g>
<path d="M685.4 630.8 C706.16 630.8 720 647.99 720 669 C720 688.5 694.94 691.62 690.5 708 L675.5 708 C671.24 691.62 647.5 688.5 647.5 669 C647.5 647.99 662.66 630.8 685.4 630.8Z" fill="#5a2606" filter="url(#mot)" opacity="0.5"/>
<path d="M683 708 Q683.72 669.4 685.4 634.8" fill="none" stroke="#5a2408" stroke-width="2.4" opacity="0.7"/>
<path d="M683.62 687.93 Q661.08 680.98 655.45 664.77" fill="none" stroke="#5a2408" stroke-width="1.8" opacity="0.59"/>
<path d="M683.74 684.07 Q706.37 677.12 712.02 660.91" fill="none" stroke="#5a2408" stroke-width="1.8" opacity="0.59"/>
</g>
</g>
<g filter="url(#bl)">
<path d="M868 690 Q869.32 706 871 715 Q876 718 881 715 Q881.32 706 882 690Z" fill="url(#lp14)"/>
<path d="M880 610 Q900 628 906.5 650 Q900 678 882 697 L868 697 Q848 672 842.5 648 Q858 622 880 610Z" fill="url(#lg14)" opacity="1.0" stroke="#c88c28" stroke-width="2" stroke-opacity="0.85"/>
<g clip-path="url(#lc14)">
<path d="M880 610 Q900 628 906.5 650 Q900 678 882 697 L868 697 Q848 672 842.5 648 Q858 622 880 610Z" fill="#c88420" filter="url(#mot)" opacity="0.3"/>
<path d="M875 696 Q876.38 653.2 879.6 614.4" fill="none" stroke="#c08020" stroke-width="2.4" opacity="0.75"/>
<path d="M876.2 673.74 Q855.17 666.04 849.91 648.06" fill="none" stroke="#c08020" stroke-width="1.8" opacity="0.64"/>
<path d="M876.43 669.46 Q895.19 661.76 899.88 643.78" fill="none" stroke="#c08020" stroke-width="1.8" opacity="0.64"/>
</g>
</g>
<g filter="url(#bl)">
<path d="M978.3 694 Q975.21 719.9 967.8 738.8 Q970.3 741.8 972.8 738.8 Q981.71 719.9 986.3 694Z" fill="url(#lp15)"/>
<path d="M977.5 610.4 C1003.42 610.4 1020.7 630.34 1020.7 654.7 C1020.7 677.35 990.91 680.97 986.3 700 L978.3 700 C973.82 676.9 945 672.5 945 645 C945 625.97 958 610.4 977.5 610.4Z" fill="url(#lg15)" opacity="1.0" stroke="#d8a050" stroke-width="2" stroke-opacity="0.85"/>
<g clip-path="url(#lc15)">
<path d="M982.3 700 Q980.86 655.2 977.5 614.4" fill="none" stroke="#d09840" stroke-width="2.4" opacity="0.8"/>
<path d="M981.05 676.7 Q958.56 668.64 952.93 649.82" fill="none" stroke="#d09840" stroke-width="1.8" opacity="0.68"/>
<path d="M980.81 672.22 Q1005.7 664.16 1011.92 645.34" fill="none" stroke="#d09840" stroke-width="1.8" opacity="0.68"/>
</g>
</g>
<g filter="url(#bl)">
<path d="M1169.5 698 Q1173.22 723 1180 741 Q1182.5 744 1185 741 Q1180.22 723 1178.5 698Z" fill="url(#lp16)"/>
<path d="M1174 599.6 C1195 599.6 1209 617.91 1209 640.3 C1209 672.15 1182.7 677.25 1178.5 704 L1169.5 704 C1165.18 678.25 1138 673.35 1138 642.7 C1138 619 1152.4 599.6 1174 599.6Z" fill="url(#lg16)" opacity="1.0" stroke="#cc9030" stroke-width="2" stroke-opacity="0.85"/>
<g clip-path="url(#lc16)">
<g filter="url(#bl5)">
<ellipse cx="1174" cy="652" rx="18" ry="30" fill="#d89838" opacity="0.5"/>
<ellipse cx="1178" cy="603" rx="5" ry="4" fill="#8a3c14" opacity="0.8"/>
</g>
<path d="M1174 704 Q1174 651.8 1174 603.6" fill="none" stroke="#c08020" stroke-width="2.4" opacity="0.8"/>
<path d="M1174 676.86 Q1151.54 667.46 1145.92 645.54" fill="none" stroke="#c08020" stroke-width="1.8" opacity="0.68"/>
<path d="M1174 671.64 Q1195.84 662.24 1201.3 640.32" fill="none" stroke="#c08020" stroke-width="1.8" opacity="0.68"/>
</g>
</g>
<g filter="url(#bl)">
<path d="M1262 682 Q1262.43 702 1262.5 715 Q1271 718 1279.5 715 Q1280.93 702 1282 682Z" fill="url(#lp17)"/>
<path d="M1277 597 C1300.88 597 1316.8 615.45 1316.8 638 C1316.8 663 1287.38 667 1282 688 L1262 688 C1257.8 667 1237 663 1237 638 C1237 615.45 1253 597 1277 597Z" fill="url(#lg17)" opacity="1.0" stroke="#d8a444" stroke-width="2" stroke-opacity="0.85"/>
<g clip-path="url(#lc17)">
<path d="M1272 688 Q1273.5 642.5 1277 601" fill="none" stroke="#d49c3c" stroke-width="2.4" opacity="0.8"/>
<path d="M1273.3 664.34 Q1250.65 656.15 1244.99 637.04" fill="none" stroke="#d49c3c" stroke-width="1.8" opacity="0.68"/>
<path d="M1273.55 659.79 Q1300.54 651.6 1307.28 632.49" fill="none" stroke="#d49c3c" stroke-width="1.8" opacity="0.68"/>
</g>
</g>
<g filter="url(#bl)">
<path d="M1394.3 246 Q1397.11 275.75 1401.4 298.5 Q1404.4 301.5 1407.4 298.5 Q1406.11 275.75 1406.3 246Z" fill="url(#lp18)"/>
<path d="M1392 174.8 C1417.5 174.8 1434.5 188.39 1434.5 205 C1434.5 228.5 1410.4 232.26 1406.3 252 L1394.3 252 C1391.83 236.88 1379.7 234 1379.7 216 C1379.7 193.34 1384.62 174.8 1392 174.8Z" fill="url(#lg18)" opacity="1.0" stroke="#e4e4e0" stroke-width="1.4" stroke-opacity="0.85"/>
<g clip-path="url(#lc18)">
<g filter="url(#bl5)">
<ellipse cx="1400" cy="248" rx="15" ry="12" fill="#5870bc" opacity="0.8"/>
<ellipse cx="1383" cy="212" rx="4" ry="22" fill="#4858a8" opacity="0.8"/>
<ellipse cx="1430" cy="206" rx="4" ry="4" fill="#6070b8" opacity="0.8"/>
</g>
<path d="M1400.3 255 Q1394.19 239.13 1381.55 230.54" fill="none" stroke="#6478c0" stroke-width="2" opacity="0.7"/>
<path d="M1400.3 255 Q1396.51 235 1389.65 218.83" fill="none" stroke="#6478c0" stroke-width="2" opacity="0.7"/>
<path d="M1400.3 255 Q1400.39 234.58 1403.66 217.33" fill="none" stroke="#6478c0" stroke-width="2" opacity="0.7"/>
<path d="M1400.3 255 Q1403.53 238.12 1414.06 227.04" fill="none" stroke="#6478c0" stroke-width="2" opacity="0.7"/>
</g>
</g>
<g filter="url(#bl)">
<path d="M1516 256.5 Q1517.9 288.5 1521.1 313.5 Q1523.6 316.5 1526.1 313.5 Q1524.4 288.5 1524 256.5Z" fill="url(#lp19)"/>
<path d="M1526.3 161 C1536.92 161 1544 175.85 1544 194 C1544 228.25 1526.88 233.73 1524 262.5 L1516 262.5 C1510.44 248.68 1473.7 246.05 1473.7 229.6 C1473.7 191.87 1494.74 161 1526.3 161Z" fill="url(#lg19)" opacity="1.0" stroke="#e8e6dc" stroke-width="1.4" stroke-opacity="0.85"/>
<g clip-path="url(#lc19)">
<g filter="url(#bl5)">
<ellipse cx="1536" cy="190" rx="11" ry="18" fill="#f1e2b4" opacity="0.8"/>
<ellipse cx="1510" cy="254" rx="20" ry="12" fill="#90a8dc" opacity="0.8"/>
<ellipse cx="1480" cy="215" rx="4" ry="10" fill="#7888c8" opacity="0.6"/>
</g>
<path d="M1520 265.5 Q1514.66 246.49 1499.95 235.35" fill="none" stroke="#6478c0" stroke-width="2" opacity="0.6"/>
<path d="M1520 265.5 Q1518.64 241.92 1512.99 221.85" fill="none" stroke="#6478c0" stroke-width="2" opacity="0.6"/>
<path d="M1520 265.5 Q1523.89 242.25 1531.98 223.03" fill="none" stroke="#6478c0" stroke-width="2" opacity="0.6"/>
<path d="M1520 265.5 Q1527.28 247.28 1543.25 238.04" fill="none" stroke="#6478c0" stroke-width="2" opacity="0.6"/>
</g>
<path d="M1529 176 Q1530 215 1522 262" stroke="#34449c" stroke-width="3.5" fill="none" opacity="0.7"/>
</g>
<g filter="url(#bl)">
<path d="M1742 267.4 Q1743.3 288.5 1745.5 302.6 Q1748 305.6 1750.5 302.6 Q1749.3 288.5 1749 267.4Z" fill="url(#lp20)"/>
<path d="M1745.5 166.6 C1773.1 166.6 1791.5 185.09 1791.5 207.7 C1791.5 240.55 1754.52 245.81 1749 273.4 L1742 273.4 C1738.1 244.67 1713 239.2 1713 205 C1713 183.88 1726 166.6 1745.5 166.6Z" fill="url(#lg20)" opacity="1.0" stroke="#d8c8a8" stroke-width="1.4" stroke-opacity="0.85"/>
<g clip-path="url(#lc20)">
<g filter="url(#bl5)">
<ellipse cx="1748" cy="240" rx="34" ry="24" fill="#acc2e6" opacity="0.8"/>
</g>
<path d="M1745.5 276.4 Q1733.61 249.16 1705.69 236.92" fill="none" stroke="#5870b8" stroke-width="2" opacity="0.75"/>
<path d="M1745.5 276.4 Q1736.52 244.78 1714 222.33" fill="none" stroke="#5870b8" stroke-width="2" opacity="0.75"/>
<path d="M1745.5 276.4 Q1740.5 240.78 1727.49 209.9" fill="none" stroke="#5870b8" stroke-width="2" opacity="0.75"/>
<path d="M1745.5 276.4 Q1745.5 237.4 1745.5 201.4" fill="none" stroke="#5870b8" stroke-width="2" opacity="0.75"/>
<path d="M1745.5 276.4 Q1750.5 240.78 1763.51 209.9" fill="none" stroke="#5870b8" stroke-width="2" opacity="0.75"/>
<path d="M1745.5 276.4 Q1754.48 244.78 1777 222.33" fill="none" stroke="#5870b8" stroke-width="2" opacity="0.75"/>
<path d="M1745.5 276.4 Q1757.39 249.16 1785.31 236.92" fill="none" stroke="#5870b8" stroke-width="2" opacity="0.75"/>
</g>
</g>
<g filter="url(#bl)">
<path d="M1872.5 251 Q1875.93 287.15 1881.8 316.3 Q1883.8 319.3 1885.8 316.3 Q1882.43 287.15 1881.5 251Z" fill="url(#lp21)"/>
<path d="M1877 169.3 C1899.98 169.3 1915.3 192.75 1915.3 221.4 C1915.3 239.2 1886.1 242.05 1881.5 257 L1872.5 257 C1867.46 238.1 1835 234.5 1835 212 C1835 188.52 1851.8 169.3 1877 169.3Z" fill="url(#lg21)" opacity="1.0" stroke="#ece8d4" stroke-width="1.4" stroke-opacity="0.85"/>
<g clip-path="url(#lc21)">
<g filter="url(#bl5)">
<ellipse cx="1877" cy="249" rx="26" ry="11" fill="#7890d0" opacity="0.8"/>
<ellipse cx="1877" cy="172" rx="5" ry="4" fill="#5058b0" opacity="0.9"/>
</g>
<path d="M1877 260 Q1869.07 243.39 1851.2 238.93" fill="none" stroke="#7088cc" stroke-width="2" opacity="0.7"/>
<path d="M1877 260 Q1871.44 240.04 1857.56 227.06" fill="none" stroke="#7088cc" stroke-width="2" opacity="0.7"/>
<path d="M1877 260 Q1874.9 237.16 1869.39 217.83" fill="none" stroke="#7088cc" stroke-width="2" opacity="0.7"/>
<path d="M1877 260 Q1879.1 237.16 1884.61 217.83" fill="none" stroke="#7088cc" stroke-width="2" opacity="0.7"/>
<path d="M1877 260 Q1882.56 240.04 1896.44 227.06" fill="none" stroke="#7088cc" stroke-width="2" opacity="0.7"/>
<path d="M1877 260 Q1884.93 243.39 1902.8 238.93" fill="none" stroke="#7088cc" stroke-width="2" opacity="0.7"/>
</g>
</g>
<g filter="url(#bl)">
<path d="M2097.6 269 Q2098.1 279.7 2098.6 283.4 Q2101.6 286.4 2104.6 283.4 Q2105.1 279.7 2105.6 269Z" fill="url(#lp22)"/>
<path d="M2082.5 161 C2112.8 161 2133 198.03 2133 243.3 C2133 259.15 2109.37 261.69 2105.6 275 L2097.6 275 C2091.85 253.58 2053.7 249.5 2053.7 224 C2053.7 189.35 2065.22 161 2082.5 161Z" fill="url(#lg22)" opacity="1.0" stroke="#e8e4d4" stroke-width="1.4" stroke-opacity="0.85"/>
<g clip-path="url(#lc22)">
<g filter="url(#bl5)">
<ellipse cx="2106" cy="248" rx="20" ry="18" fill="#90a4d8" opacity="0.6"/>
<ellipse cx="2082" cy="165" rx="10" ry="5" fill="#3c3c98" opacity="0.9"/>
</g>
<path d="M2101.6 278 Q2086.25 254.64 2057.65 249.12" fill="none" stroke="#5870c0" stroke-width="2" opacity="0.8"/>
<path d="M2101.6 278 Q2088.37 249.95 2063.07 233.45" fill="none" stroke="#5870c0" stroke-width="2" opacity="0.8"/>
<path d="M2101.6 278 Q2091.62 245.47 2074.1 219.06" fill="none" stroke="#5870c0" stroke-width="2" opacity="0.8"/>
<path d="M2101.6 278 Q2095.98 241.47 2090.36 207.93" fill="none" stroke="#5870c0" stroke-width="2" opacity="0.8"/>
<path d="M2101.6 278 Q2101.41 243.83 2109.36 213.15" fill="none" stroke="#5870c0" stroke-width="2" opacity="0.8"/>
<path d="M2101.6 278 Q2105.95 247 2124.49 223.16" fill="none" stroke="#5870c0" stroke-width="2" opacity="0.8"/>
<path d="M2101.6 278 Q2109.48 250.75 2134.71 236.21" fill="none" stroke="#5870c0" stroke-width="2" opacity="0.8"/>
</g>
</g>
<g filter="url(#bl)">
<path d="M2207.5 232 Q2208 258.5 2208.5 278 Q2211 281 2213.5 278 Q2214 258.5 2214.5 232Z" fill="url(#lp23)"/>
<path d="M2219.5 176 C2232.64 176 2241.4 187.7 2241.4 202 C2241.4 220 2218.15 222.88 2214.5 238 L2207.5 238 C2204.57 227.5 2186.6 225.5 2186.6 213 C2186.6 192.65 2199.76 176 2219.5 176Z" fill="url(#lg23)" opacity="1.0" stroke="#ebe8d8" stroke-width="1.4" stroke-opacity="0.85"/>
<g clip-path="url(#lc23)">
<g filter="url(#bl5)">
<ellipse cx="2211" cy="230" rx="17" ry="9" fill="#5870b8" opacity="0.8"/>
<ellipse cx="2219" cy="178" rx="5" ry="3" fill="#5050a8" opacity="0.9"/>
</g>
<path d="M2211 241 Q2208.61 228.55 2200.61 221.5" fill="none" stroke="#6478c0" stroke-width="2" opacity="0.7"/>
<path d="M2211 241 Q2211.1 226.08 2208.7 214.28" fill="none" stroke="#6478c0" stroke-width="2" opacity="0.7"/>
<path d="M2211 241 Q2214.11 226.5 2219.6 215.77" fill="none" stroke="#6478c0" stroke-width="2" opacity="0.7"/>
<path d="M2211 241 Q2215.85 229.54 2225.45 224.9" fill="none" stroke="#6478c0" stroke-width="2" opacity="0.7"/>
</g>
<circle cx="2264.6" cy="168.8" r="2.2" fill="#8c8cb8" opacity="0.7"/>
</g>
<g filter="url(#bl)">
<path d="M1399.9 482 Q1401.1 503.75 1402.8 518.5 Q1405.8 521.5 1408.8 518.5 Q1408.6 503.75 1408.9 482Z" fill="url(#lp24)"/>
<path d="M1405.8 371.5 C1425.48 371.5 1438.6 391.84 1438.6 416.7 C1438.6 452.35 1413 458.05 1408.9 488 L1399.9 488 C1394.45 458.05 1359 452.35 1359 416.7 C1359 391.84 1377.72 371.5 1405.8 371.5Z" fill="url(#lg24)" opacity="1.0" stroke="#5060a4" stroke-width="1.4" stroke-opacity="0.85"/>
<g clip-path="url(#lc24)">
<g filter="url(#bl5)">
<ellipse cx="1410" cy="394" rx="30" ry="20" fill="#323e7a" opacity="0.9"/>
<ellipse cx="1376" cy="440" rx="14" ry="22" fill="#c4cde6" opacity="0.9"/>
<ellipse cx="1420" cy="452" rx="12" ry="18" fill="#a4b2dc" opacity="0.7"/>
<ellipse cx="1395" cy="400" rx="10" ry="8" fill="#7c8cc4" opacity="0.6"/>
</g>
<path d="M1405.8 371.5 C1425.48 371.5 1438.6 391.84 1438.6 416.7 C1438.6 452.35 1413 458.05 1408.9 488 L1399.9 488 C1394.45 458.05 1359 452.35 1359 416.7 C1359 391.84 1377.72 371.5 1405.8 371.5Z" fill="#2c3870" filter="url(#mot)" opacity="0.5"/>
<path d="M1404.4 488 Q1404.82 429.75 1405.8 375.5" fill="none" stroke="#2c3870" stroke-width="2.4" opacity="0.6"/>
<path d="M1404.76 457.71 Q1376.21 447.22 1369.07 422.76" fill="none" stroke="#2c3870" stroke-width="1.8" opacity="0.51"/>
<path d="M1404.83 451.88 Q1425.9 441.4 1431.17 416.94" fill="none" stroke="#2c3870" stroke-width="1.8" opacity="0.51"/>
</g>
</g>
<g filter="url(#bl)">
<path d="M1499.5 456 Q1498.96 491.4 1495 519.8 Q1497.5 522.8 1500 519.8 Q1508.96 491.4 1514.5 456Z" fill="url(#lp25)"/>
<path d="M1510 392 C1537 392 1555 404.38 1555 419.5 C1555 440.75 1520.26 444.15 1514.5 462 L1499.5 462 C1494.92 437.22 1468.8 432.5 1468.8 403 C1468.8 396.95 1485.28 392 1510 392Z" fill="url(#lg25)" opacity="1.0" stroke="#262c58" stroke-width="1.4" stroke-opacity="0.85"/>
<g clip-path="url(#lc25)">
<g filter="url(#bl5)">
<ellipse cx="1515" cy="399" rx="30" ry="7" fill="#ebe3b6" opacity="0.95"/>
<ellipse cx="1537" cy="430" rx="10" ry="8" fill="#6474ac" opacity="0.6"/>
</g>
<path d="M1510 392 C1537 392 1555 404.38 1555 419.5 C1555 440.75 1520.26 444.15 1514.5 462 L1499.5 462 C1494.92 437.22 1468.8 432.5 1468.8 403 C1468.8 396.95 1485.28 392 1510 392Z" fill="#14183c" filter="url(#mot)" opacity="0.5"/>
<path d="M1507 462 Q1507.9 427 1510 396" fill="none" stroke="#1a1e44" stroke-width="2.4" opacity="0.6"/>
<path d="M1507.78 443.8 Q1483.46 437.5 1477.38 422.8" fill="none" stroke="#1a1e44" stroke-width="1.8" opacity="0.51"/>
<path d="M1507.93 440.3 Q1537.3 434 1544.64 419.3" fill="none" stroke="#1a1e44" stroke-width="1.8" opacity="0.51"/>
</g>
</g>
<g filter="url(#bl)">
<path d="M1733.5 481 Q1731.44 512 1726.5 536 Q1729 539 1731.5 536 Q1737.44 512 1740.5 481Z" fill="url(#lp26)"/>
<path d="M1737.3 368.8 C1763.22 368.8 1780.5 385.45 1780.5 405.8 C1780.5 446.4 1745.72 452.9 1740.5 487 L1733.5 487 C1728.58 457.47 1696 451.85 1696 416.7 C1696 390.36 1712.52 368.8 1737.3 368.8Z" fill="url(#lg26)" opacity="1.0" stroke="#8ca2dc" stroke-width="1.4" stroke-opacity="0.85"/>
<g clip-path="url(#lc26)">
<g filter="url(#bl5)">
<ellipse cx="1735" cy="415" rx="20" ry="25" fill="#c8d4ee" opacity="0.7"/>
<ellipse cx="1769" cy="447" rx="9" ry="22" fill="#ebe6d2" opacity="0.85"/>
</g>
<path d="M1737.3 368.8 C1763.22 368.8 1780.5 385.45 1780.5 405.8 C1780.5 446.4 1745.72 452.9 1740.5 487 L1733.5 487 C1728.58 457.47 1696 451.85 1696 416.7 C1696 390.36 1712.52 368.8 1737.3 368.8Z" fill="#7088d0" filter="url(#mot)" opacity="0.35"/>
<path d="M1737 487 Q1737.09 427.9 1737.3 372.8" fill="none" stroke="#6078c8" stroke-width="2.4" opacity="0.6"/>
<path d="M1737.08 456.27 Q1711.45 445.63 1705.04 420.81" fill="none" stroke="#6078c8" stroke-width="1.8" opacity="0.51"/>
<path d="M1737.09 450.36 Q1764.18 439.72 1770.95 414.9" fill="none" stroke="#6078c8" stroke-width="1.8" opacity="0.51"/>
</g>
</g>
<g filter="url(#bl)">
<path d="M1862.2 482 Q1866.64 507.15 1875.5 525.3 Q1877 528.3 1878.5 525.3 Q1870.64 507.15 1867.2 482Z" fill="url(#lp27)"/>
<path d="M1860.5 357.8 C1882.4 357.8 1897 378.14 1897 403 C1897 445.5 1871.08 452.3 1867.2 488 L1862.2 488 C1857.5 451.04 1825.5 444 1825.5 400 C1825.5 376.79 1839.5 357.8 1860.5 357.8Z" fill="url(#lg27)" opacity="1.0" stroke="#7890d4" stroke-width="1.4" stroke-opacity="0.85"/>
<g clip-path="url(#lc27)">
<g filter="url(#bl5)">
<ellipse cx="1856" cy="442" rx="13" ry="28" fill="#d4dcee" opacity="0.85"/>
<ellipse cx="1883" cy="425" rx="8" ry="28" fill="#4c6cc4" opacity="0.7"/>
<ellipse cx="1842" cy="415" rx="5" ry="12" fill="#283878" opacity="0.7"/>
</g>
<path d="M1860.5 357.8 C1882.4 357.8 1897 378.14 1897 403 C1897 445.5 1871.08 452.3 1867.2 488 L1862.2 488 C1857.5 451.04 1825.5 444 1825.5 400 C1825.5 376.79 1839.5 357.8 1860.5 357.8Z" fill="#5068c0" filter="url(#mot)" opacity="0.35"/>
<path d="M1864.7 488 Q1863.44 422.9 1860.5 361.8" fill="none" stroke="#4860b8" stroke-width="2.4" opacity="0.6"/>
<path d="M1863.61 454.15 Q1839.83 442.43 1833.88 415.09" fill="none" stroke="#4860b8" stroke-width="1.8" opacity="0.51"/>
<path d="M1863.4 447.64 Q1884.37 435.92 1889.61 408.58" fill="none" stroke="#4860b8" stroke-width="1.8" opacity="0.51"/>
</g>
</g>
<g filter="url(#bl)">
<path d="M2087.3 446 Q2084.19 485.75 2077.15 518.5 Q2078.4 521.5 2079.65 518.5 Q2087.44 485.75 2091.3 446Z" fill="url(#lp28)"/>
<path d="M2088 364.7 C2120.82 364.7 2142.7 390.49 2142.7 422 C2142.7 437 2097.71 439.4 2091.3 452 L2087.3 452 C2082.63 438.35 2050.4 435.75 2050.4 419.5 C2050.4 389.36 2065.44 364.7 2088 364.7Z" fill="url(#lg28)" opacity="1.0" stroke="#8ca2dc" stroke-width="1.4" stroke-opacity="0.85"/>
<g clip-path="url(#lc28)">
<g filter="url(#bl5)">
<ellipse cx="2116" cy="446" rx="20" ry="17" fill="#ece8d8" opacity="0.9"/>
<ellipse cx="2080" cy="400" rx="15" ry="20" fill="#b4c4ea" opacity="0.6"/>
</g>
<path d="M2088 364.7 C2120.82 364.7 2142.7 390.49 2142.7 422 C2142.7 437 2097.71 439.4 2091.3 452 L2087.3 452 C2082.63 438.35 2050.4 435.75 2050.4 419.5 C2050.4 389.36 2065.44 364.7 2088 364.7Z" fill="#6880d0" filter="url(#mot)" opacity="0.35"/>
<path d="M2089.3 452 Q2088.91 408.35 2088 368.7" fill="none" stroke="#5c74c8" stroke-width="2.4" opacity="0.6"/>
<path d="M2088.96 429.3 Q2064.9 421.44 2058.88 403.11" fill="none" stroke="#5c74c8" stroke-width="1.8" opacity="0.51"/>
<path d="M2088.9 424.94 Q2122.47 417.08 2130.86 398.75" fill="none" stroke="#5c74c8" stroke-width="1.8" opacity="0.51"/>
</g>
</g>
<g filter="url(#bl)">
<path d="M2221.5 474 Q2229.05 498.35 2244.8 515.7 Q2246.8 518.7 2248.8 515.7 Q2233.55 498.35 2226.5 474Z" fill="url(#lp29)"/>
<path d="M2221 371 Q2272 392 2287 436 Q2260 452 2226 482 Q2203 430 2209 388 Q2212 373 2221 371Z" fill="url(#lg29)" opacity="1.0" stroke="#8098d8" stroke-width="1.4" stroke-opacity="0.85"/>
<g clip-path="url(#lc29)">
<g filter="url(#bl5)">
<ellipse cx="2240" cy="400" rx="14" ry="18" fill="#c0ccee" opacity="0.7"/>
<ellipse cx="2225" cy="455" rx="10" ry="20" fill="#6c84d0" opacity="0.6"/>
</g>
<path d="M2221 371 Q2272 392 2287 436 Q2260 452 2226 482 Q2203 430 2209 388 Q2212 373 2221 371Z" fill="#5870c8" filter="url(#mot)" opacity="0.3"/>
</g>
<path d="M2224 371 Q2274 394 2286 434" stroke="#d8a862" stroke-width="3" fill="none"/>
<path d="M2226 478 Q2240 440 2238 390 M2232 462 Q2256 446 2276 434 M2236 436 Q2252 420 2262 404" stroke="#3850a8" stroke-width="2" fill="none" opacity="0.75"/>
<path d="M2224 480 L2222 494 L2246 516" stroke="#2c3c98" stroke-width="4" fill="none" stroke-linejoin="round" stroke-linecap="round"/>
</g>
<g filter="url(#bl)">
<path d="M1383.2 718 Q1384.12 739.2 1385.5 753.4 Q1392 756.4 1398.5 753.4 Q1398.12 739.2 1398.2 718Z" fill="url(#lp30)"/>
<path d="M1389 646 Q1404 648 1406 664 Q1405 680 1411 694 Q1410 712 1398 724 L1384 724 Q1372 712 1356 704 Q1344 696 1346 686 Q1352 668 1368 658 Q1378 648 1389 646Z" fill="url(#lg30)" opacity="1.0" stroke="#0c1028" stroke-width="1.4" stroke-opacity="0.85"/>
<g clip-path="url(#lc30)">
<g filter="url(#bl5)">
<ellipse cx="1385" cy="716" rx="15" ry="12" fill="#283460" opacity="0.8"/>
</g>
</g>
<circle cx="1389" cy="693" r="2.4" fill="#b4b8c4"/>
</g>
<g filter="url(#bl)">
<path d="M1526 731 Q1527.3 746.4 1529.5 754.8 Q1534.5 757.8 1539.5 754.8 Q1538.3 746.4 1538 731Z" fill="url(#lp31)"/>
<path d="M1529 635 Q1562 650 1578 681 Q1570 714 1540 737 L1526 737 Q1494 722 1487 700 Q1500 656 1529 635Z" fill="url(#lg31)" opacity="1.0" stroke="#1c2458" stroke-width="2.2" stroke-opacity="0.85"/>
<g clip-path="url(#lc31)">
<g filter="url(#bl5)">
<ellipse cx="1526" cy="686" rx="24" ry="25" fill="#8090c0" opacity="0.6"/>
</g>
<path d="M1529 635 Q1562 650 1578 681 Q1570 714 1540 737 L1526 737 Q1494 722 1487 700 Q1500 656 1529 635Z" fill="#1c2458" filter="url(#mot)" opacity="0.5"/>
<path d="M1532 737 Q1531.1 686 1529 639" fill="none" stroke="#1c2458" stroke-width="2.4" opacity="0.8"/>
<path d="M1531.22 710.48 Q1503.38 701.3 1496.42 679.88" fill="none" stroke="#1c2458" stroke-width="1.8" opacity="0.68"/>
<path d="M1531.07 705.38 Q1560.6 696.2 1567.99 674.78" fill="none" stroke="#1c2458" stroke-width="1.8" opacity="0.68"/>
<path d="M1530.65 691.1 Q1507.39 683.14 1501.58 664.58" fill="none" stroke="#1c2458" stroke-width="1.8" opacity="0.68"/>
<path d="M1530.5 686 Q1555.79 678.04 1562.11 659.48" fill="none" stroke="#1c2458" stroke-width="1.8" opacity="0.68"/>
</g>
</g>
<g filter="url(#bl)">
<path d="M1760.7 716 Q1762.31 736.15 1764.9 749.3 Q1767.4 752.3 1769.9 749.3 Q1768.81 736.15 1768.7 716Z" fill="url(#lp32)"/>
<path d="M1763.3 605 C1792.88 605 1812.6 631.55 1812.6 664 C1812.6 693 1774.45 697.64 1768.7 722 L1760.7 722 C1755.04 695.33 1717.5 690.25 1717.5 658.5 C1717.5 629.08 1735.82 605 1763.3 605Z" fill="url(#lg32)" opacity="1.0" stroke="#a4b2e0" stroke-width="1.4" stroke-opacity="0.85"/>
<g clip-path="url(#lc32)">
<path d="M1764.7 722 Q1764.28 663.5 1763.3 609" fill="none" stroke="#6474c4" stroke-width="2.4" opacity="0.8"/>
<path d="M1764.34 691.58 Q1735.11 681.05 1727.8 656.48" fill="none" stroke="#6474c4" stroke-width="1.8" opacity="0.68"/>
<path d="M1764.27 685.73 Q1794.43 675.2 1801.97 650.63" fill="none" stroke="#6474c4" stroke-width="1.8" opacity="0.68"/>
<path d="M1764.07 669.35 Q1739.48 660.22 1733.33 638.93" fill="none" stroke="#6474c4" stroke-width="1.8" opacity="0.68"/>
<path d="M1764 663.5 Q1789.66 654.37 1796.08 633.08" fill="none" stroke="#6474c4" stroke-width="1.8" opacity="0.68"/>
</g>
</g>
<g filter="url(#bl)">
<path d="M1885.3 706 Q1887.61 732.5 1891.4 752 Q1893.4 755 1895.4 752 Q1893.61 732.5 1893.3 706Z" fill="url(#lp33)"/>
<path d="M1886.6 598.2 C1914.2 598.2 1932.6 621.64 1932.6 650.3 C1932.6 681.15 1898.5 686.09 1893.3 712 L1885.3 712 C1879.38 687.22 1840 682.5 1840 653 C1840 622.86 1858.64 598.2 1886.6 598.2Z" fill="url(#lg33)" opacity="1.0" stroke="#b4c0e6" stroke-width="1.4" stroke-opacity="0.85"/>
<g clip-path="url(#lc33)">
<path d="M1889.3 712 Q1888.49 655.1 1886.6 602.2" fill="none" stroke="#5c6cc4" stroke-width="2.4" opacity="0.8"/>
<path d="M1888.6 682.41 Q1858.27 672.17 1850.69 648.27" fill="none" stroke="#5c6cc4" stroke-width="1.8" opacity="0.68"/>
<path d="M1888.46 676.72 Q1916 666.48 1922.89 642.58" fill="none" stroke="#5c6cc4" stroke-width="1.8" opacity="0.68"/>
<path d="M1888.09 660.79 Q1862.7 651.91 1856.35 631.2" fill="none" stroke="#5c6cc4" stroke-width="1.8" opacity="0.68"/>
<path d="M1887.95 655.1 Q1911.53 646.22 1917.42 625.51" fill="none" stroke="#5c6cc4" stroke-width="1.8" opacity="0.68"/>
</g>
<path d="M1858 612 Q1886 594 1916 612" stroke="#ead89c" stroke-width="5" fill="none" opacity="0.9"/>
</g>
<g filter="url(#bl)">
<path d="M2119.6 716 Q2122.33 734.75 2127 746.5 Q2129 749.5 2131 746.5 Q2128.33 734.75 2127.6 716Z" fill="url(#lp34)"/>
<path d="M2119.5 598.2 C2151.54 598.2 2172.9 629.03 2172.9 666.7 C2172.9 694.35 2133.52 698.77 2127.6 722 L2119.6 722 C2113.12 698.77 2069.6 694.35 2069.6 666.7 C2069.6 629.03 2089.56 598.2 2119.5 598.2Z" fill="url(#lg34)" opacity="1.0" stroke="#8ca0dc" stroke-width="1.4" stroke-opacity="0.85"/>
<g clip-path="url(#lc34)">
<g filter="url(#bl5)">
<ellipse cx="2076" cy="670" rx="6" ry="15" fill="#4860b8" opacity="0.7"/>
<ellipse cx="2119" cy="602" rx="5" ry="4" fill="#3c4ca0" opacity="0.8"/>
</g>
<path d="M2123.6 722 Q2122.37 660.1 2119.5 602.2" fill="none" stroke="#4c64b8" stroke-width="2.4" opacity="0.8"/>
<path d="M2122.53 689.81 Q2089.5 678.67 2081.25 652.67" fill="none" stroke="#4c64b8" stroke-width="1.8" opacity="0.68"/>
<path d="M2122.33 683.62 Q2153.89 672.48 2161.77 646.48" fill="none" stroke="#4c64b8" stroke-width="1.8" opacity="0.68"/>
<path d="M2121.76 666.29 Q2094.22 656.63 2087.33 634.1" fill="none" stroke="#4c64b8" stroke-width="1.8" opacity="0.68"/>
<path d="M2121.55 660.1 Q2148.66 650.44 2155.44 627.91" fill="none" stroke="#4c64b8" stroke-width="1.8" opacity="0.68"/>
</g>
</g>
<g filter="url(#bl)">
<path d="M2224.4 702 Q2227.21 729.8 2231.5 750.6 Q2234.5 753.6 2237.5 750.6 Q2236.21 729.8 2236.4 702Z" fill="url(#lp35)"/>
<path d="M2233 599.6 C2258.56 599.6 2275.6 619.94 2275.6 644.8 C2275.6 676.4 2241.82 681.46 2236.4 708 L2224.4 708 C2219.31 687.21 2188 683.25 2188 658.5 C2188 626.11 2206 599.6 2233 599.6Z" fill="url(#lg35)" opacity="1.0" stroke="#b0bee6" stroke-width="1.4" stroke-opacity="0.85"/>
<g clip-path="url(#lc35)">
<g filter="url(#bl5)">
<ellipse cx="2233" cy="602" rx="5" ry="3" fill="#4c4c98" opacity="0.8"/>
</g>
<path d="M2230.4 708 Q2231.18 653.8 2233 603.6" fill="none" stroke="#5c6cc4" stroke-width="2.4" opacity="0.8"/>
<path d="M2231.08 679.82 Q2204.2 670.06 2197.48 647.3" fill="none" stroke="#5c6cc4" stroke-width="1.8" opacity="0.68"/>
<path d="M2231.21 674.4 Q2258.91 664.64 2265.83 641.88" fill="none" stroke="#5c6cc4" stroke-width="1.8" opacity="0.68"/>
<path d="M2231.57 659.22 Q2208.57 650.76 2202.81 631.04" fill="none" stroke="#5c6cc4" stroke-width="1.8" opacity="0.68"/>
<path d="M2231.7 653.8 Q2254.88 645.34 2260.67 625.62" fill="none" stroke="#5c6cc4" stroke-width="1.8" opacity="0.68"/>
</g>
</g>
<rect x="523.5" y="127" width="6.4" height="697.5" fill="#000"/>
<rect x="529.8" y="123.5" width="1776.8" height="6.4" fill="#000"/>
<rect x="523.5" y="818.5" width="1780" height="6.2" fill="#000"/>
<rect x="1337.2" y="129" width="5.6" height="690" fill="#000"/>
<rect x="2296.8" y="129" width="6.3" height="695.7" fill="#000"/>
</g>
<g id="charts" stroke-linejoin="round">
<rect x="369.9" y="1573.9" width="61.6" height="197.1" fill="#fff" stroke="#000" stroke-width="3.8"/>
<rect x="431.5" y="1517.9" width="63.05" height="253.1" fill="#a5a5a5" stroke="#000" stroke-width="3.8"/>
<rect x="494.55" y="1544.4" width="62.55" height="226.6" fill="#000" stroke="#000" stroke-width="3.8"/>
<rect x="651.9" y="1207.9" width="63.45" height="563.1" fill="#fff" stroke="#000" stroke-width="3.8"/>
<rect x="715.35" y="1370.4" width="61.25" height="400.6" fill="#a5a5a5" stroke="#000" stroke-width="3.8"/>
<rect x="776.6" y="1363.7" width="63.7" height="407.3" fill="#000" stroke="#000" stroke-width="3.8"/>
<rect x="935.1" y="1345.9" width="61.5" height="425.1" fill="#fff" stroke="#000" stroke-width="3.8"/>
<rect x="996.6" y="1603.4" width="63.1" height="167.6" fill="#a5a5a5" stroke="#000" stroke-width="3.8"/>
<rect x="1059.7" y="1503.9" width="60.9" height="272.1" fill="#000" stroke="#000" stroke-width="3.8"/>
<path d="M401 1573V1533M390.2 1533H411.8" fill="none" stroke="#000" stroke-width="3.6" stroke-linecap="round"/>
<path d="M463.6 1517V1503.6M452.8 1503.6H474.4" fill="none" stroke="#000" stroke-width="3.6" stroke-linecap="round"/>
<path d="M526.2 1543.5V1519.8M515.4 1519.8H537" fill="none" stroke="#000" stroke-width="3.6" stroke-linecap="round"/>
<path d="M683 1207V1126.5M672.2 1126.5H693.8" fill="none" stroke="#000" stroke-width="3.6" stroke-linecap="round"/>
<path d="M745.6 1369.5V1322.2M734.8 1322.2H756.4" fill="none" stroke="#000" stroke-width="3.6" stroke-linecap="round"/>
<path d="M808.6 1362.8V1298M797.8 1298H819.4" fill="none" stroke="#000" stroke-width="3.6" stroke-linecap="round"/>
<path d="M965.7 1345V1308.7M954.9 1308.7H976.5" fill="none" stroke="#000" stroke-width="3.6" stroke-linecap="round"/>
<path d="M1028 1602.5V1586M1017.2 1586H1038.8" fill="none" stroke="#000" stroke-width="3.6" stroke-linecap="round"/>
<path d="M1088.9 1503V1481.6M1078.1 1481.6H1099.7" fill="none" stroke="#000" stroke-width="3.6" stroke-linecap="round"/>
<path d="M283.7 1007.3H1216.7V1771H283.7Z" fill="none" stroke="#000" stroke-width="4.8"/>
<path d="M283.7 1136.4H294.2" stroke="#000" stroke-width="3.4" stroke-linecap="round"/>
<path d="M283.7 1263.8H294.2" stroke="#000" stroke-width="3.4" stroke-linecap="round"/>
<path d="M283.7 1391.9H294.2" stroke="#000" stroke-width="3.4" stroke-linecap="round"/>
<path d="M283.7 1517.7H294.2" stroke="#000" stroke-width="3.4" stroke-linecap="round"/>
<path d="M283.7 1645H294.2" stroke="#000" stroke-width="3.4" stroke-linecap="round"/>
<path d="M283.7 1009.9H294.7" stroke="#000" stroke-width="3.4" stroke-linecap="round"/>
<rect x="1586.5" y="1466.9" width="60" height="309.3" fill="#fff" stroke="#000" stroke-width="3.8"/>
<rect x="1646.5" y="1457.9" width="60.85" height="318.3" fill="#a5a5a5" stroke="#000" stroke-width="3.8"/>
<rect x="1707.35" y="1453.4" width="62.85" height="322.8" fill="#000" stroke="#000" stroke-width="3.8"/>
<rect x="1862.5" y="1109.4" width="61.6" height="666.8" fill="#fff" stroke="#000" stroke-width="3.8"/>
<rect x="1924.1" y="1267.9" width="60.9" height="508.3" fill="#a5a5a5" stroke="#000" stroke-width="3.8"/>
<rect x="1985" y="1343.5" width="61.3" height="432.7" fill="#000" stroke="#000" stroke-width="3.8"/>
<rect x="2138.5" y="1265.9" width="61.6" height="510.3" fill="#fff" stroke="#000" stroke-width="3.8"/>
<rect x="2200.1" y="1350.6" width="60.05" height="425.6" fill="#a5a5a5" stroke="#000" stroke-width="3.8"/>
<rect x="2260.15" y="1323" width="62.85" height="453.2" fill="#000" stroke="#000" stroke-width="3.8"/>
<path d="M1616.8 1466V1460.4M1606 1460.4H1627.6" fill="none" stroke="#000" stroke-width="3.6" stroke-linecap="round"/>
<path d="M1678.7 1457V1420M1667.9 1420H1689.5" fill="none" stroke="#000" stroke-width="3.6" stroke-linecap="round"/>
<path d="M1739.6 1452.5V1448M1728.8 1448H1750.4" fill="none" stroke="#000" stroke-width="3.6" stroke-linecap="round"/>
<path d="M1892.5 1108.5V1072.3M1881.7 1072.3H1903.3" fill="none" stroke="#000" stroke-width="3.6" stroke-linecap="round"/>
<path d="M1954 1267V1230.9M1943.2 1230.9H1964.8" fill="none" stroke="#000" stroke-width="3.6" stroke-linecap="round"/>
<path d="M2015.3 1342.6V1323.6M2004.5 1323.6H2026.1" fill="none" stroke="#000" stroke-width="3.6" stroke-linecap="round"/>
<path d="M2169.2 1265V1248.6M2158.4 1248.6H2180" fill="none" stroke="#000" stroke-width="3.6" stroke-linecap="round"/>
<path d="M2230.4 1349.7V1343.4M2219.6 1343.4H2241.2" fill="none" stroke="#000" stroke-width="3.6" stroke-linecap="round"/>
<path d="M2292.4 1322.1V1311.2M2281.6 1311.2H2303.2" fill="none" stroke="#000" stroke-width="3.6" stroke-linecap="round"/>
<path d="M1502.4 1007.3H2441.5V1776.2H1502.4Z" fill="none" stroke="#000" stroke-width="4.8"/>
<path d="M1502.4 1161.9H1512.9" stroke="#000" stroke-width="3.4" stroke-linecap="round"/>
<path d="M1502.4 1315.8H1512.9" stroke="#000" stroke-width="3.4" stroke-linecap="round"/>
<path d="M1502.4 1469.9H1512.9" stroke="#000" stroke-width="3.4" stroke-linecap="round"/>
<path d="M1502.4 1623.9H1512.9" stroke="#000" stroke-width="3.4" stroke-linecap="round"/>
<path d="M1497.4 1776.2H1502.4" stroke="#000" stroke-width="4.8" stroke-linecap="round"/>
<rect x="373.5" y="2263.9" width="60.7" height="503.9" fill="#fff" stroke="#000" stroke-width="3.8"/>
<rect x="434.2" y="2260.6" width="62.1" height="507.2" fill="#a5a5a5" stroke="#000" stroke-width="3.8"/>
<rect x="496.3" y="2255.2" width="63.4" height="512.6" fill="#000" stroke="#000" stroke-width="3.8"/>
<rect x="653.7" y="2329.3" width="60.4" height="438.5" fill="#fff" stroke="#000" stroke-width="3.8"/>
<rect x="714.1" y="2230.2" width="63" height="537.6" fill="#a5a5a5" stroke="#000" stroke-width="3.8"/>
<rect x="777.1" y="2244.9" width="63.2" height="522.9" fill="#000" stroke="#000" stroke-width="3.8"/>
<rect x="933.3" y="2234.1" width="60.35" height="533.7" fill="#fff" stroke="#000" stroke-width="3.8"/>
<rect x="993.65" y="2198.3" width="62.5" height="569.5" fill="#a5a5a5" stroke="#000" stroke-width="3.8"/>
<rect x="1056.15" y="2150.1" width="63.75" height="617.7" fill="#000" stroke="#000" stroke-width="3.8"/>
<path d="M403.4 2263V2230.6M392.6 2230.6H414.2" fill="none" stroke="#000" stroke-width="3.6" stroke-linecap="round"/>
<path d="M466.4 2259.7V2227.8M455.6 2227.8H477.2" fill="none" stroke="#000" stroke-width="3.6" stroke-linecap="round"/>
<path d="M528 2254.3V2219M517.2 2219H538.8" fill="none" stroke="#000" stroke-width="3.6" stroke-linecap="round"/>
<path d="M683.7 2328.4V2313.8M672.9 2313.8H694.5" fill="none" stroke="#000" stroke-width="3.6" stroke-linecap="round"/>
<path d="M746.3 2229.3V2210.8M735.5 2210.8H757.1" fill="none" stroke="#000" stroke-width="3.6" stroke-linecap="round"/>
<path d="M808.6 2244V2236.6M797.8 2236.6H819.4" fill="none" stroke="#000" stroke-width="3.6" stroke-linecap="round"/>
<path d="M964 2233.2V2225M953.2 2225H974.8" fill="none" stroke="#000" stroke-width="3.6" stroke-linecap="round"/>
<path d="M1026.3 2197.4V2194.9M1015.5 2194.9H1037.1" fill="none" stroke="#000" stroke-width="3.6" stroke-linecap="round"/>
<path d="M1088.9 2149.2V2117M1078.1 2117H1099.7" fill="none" stroke="#000" stroke-width="3.6" stroke-linecap="round"/>
<path d="M288.2 2012H1228.6V2767.8H288.2Z" fill="none" stroke="#000" stroke-width="4.8"/>
<path d="M288.2 2163.4H298.7" stroke="#000" stroke-width="3.4" stroke-linecap="round"/>
<path d="M288.2 2313.8H298.7" stroke="#000" stroke-width="3.4" stroke-linecap="round"/>
<path d="M288.2 2464.6H298.7" stroke="#000" stroke-width="3.4" stroke-linecap="round"/>
<path d="M288.2 2616.5H298.7" stroke="#000" stroke-width="3.4" stroke-linecap="round"/>
<rect x="1572.3" y="2261.3" width="60.05" height="507.3" fill="#fff" stroke="#000" stroke-width="3.8"/>
<rect x="1632.35" y="2212.8" width="61.25" height="555.8" fill="#a5a5a5" stroke="#000" stroke-width="3.8"/>
<rect x="1693.6" y="2226.2" width="61.8" height="542.4" fill="#000" stroke="#000" stroke-width="3.8"/>
<rect x="1849.4" y="2296.7" width="58.45" height="471.9" fill="#fff" stroke="#000" stroke-width="3.8"/>
<rect x="1907.85" y="2211.1" width="60.2" height="557.5" fill="#a5a5a5" stroke="#000" stroke-width="3.8"/>
<rect x="1968.05" y="2210.9" width="64.05" height="557.7" fill="#000" stroke="#000" stroke-width="3.8"/>
<rect x="2124.4" y="2218.9" width="58.95" height="549.7" fill="#fff" stroke="#000" stroke-width="3.8"/>
<rect x="2183.35" y="2145.6" width="61.75" height="623" fill="#a5a5a5" stroke="#000" stroke-width="3.8"/>
<rect x="2245.1" y="2106.5" width="63" height="662.1" fill="#000" stroke="#000" stroke-width="3.8"/>
<path d="M1601.6 2260.4V2223.2M1590.8 2223.2H1612.4" fill="none" stroke="#000" stroke-width="3.6" stroke-linecap="round"/>
<path d="M1663.5 2211.9V2191.3M1652.7 2191.3H1674.3" fill="none" stroke="#000" stroke-width="3.6" stroke-linecap="round"/>
<path d="M1724.7 2225.3V2184.6M1713.9 2184.6H1735.5" fill="none" stroke="#000" stroke-width="3.6" stroke-linecap="round"/>
<path d="M1878.3 2295.8V2282.6M1867.5 2282.6H1889.1" fill="none" stroke="#000" stroke-width="3.6" stroke-linecap="round"/>
<path d="M1939.2 2210.2V2196.7M1928.4 2196.7H1950" fill="none" stroke="#000" stroke-width="3.6" stroke-linecap="round"/>
<path d="M2001.1 2210V2185.3M1990.3 2185.3H2011.9" fill="none" stroke="#000" stroke-width="3.6" stroke-linecap="round"/>
<path d="M2154.3 2218V2193.1M2143.5 2193.1H2165.1" fill="none" stroke="#000" stroke-width="3.6" stroke-linecap="round"/>
<path d="M2215.2 2144.7V2135M2204.4 2135H2226" fill="none" stroke="#000" stroke-width="3.6" stroke-linecap="round"/>
<path d="M2277.1 2105.6V2084.5M2266.3 2084.5H2287.9" fill="none" stroke="#000" stroke-width="3.6" stroke-linecap="round"/>
<path d="M1489.2 2023.2H2441.5V2768.6H1489.2Z" fill="none" stroke="#000" stroke-width="4.8"/>
<path d="M1489.2 2210.8H1499.7" stroke="#000" stroke-width="3.4" stroke-linecap="round"/>
<path d="M1489.2 2397.7H1499.7" stroke="#000" stroke-width="3.4" stroke-linecap="round"/>
<path d="M1489.2 2582.2H1499.7" stroke="#000" stroke-width="3.4" stroke-linecap="round"/>
<rect x="356.4" y="1026.4" width="66.4" height="63.8" fill="#fff" stroke="#000" stroke-width="1.6"/>
<rect x="575.3" y="1027.5" width="65.9" height="63.5" fill="#a5a5a5" stroke="#000" stroke-width="1.6"/>
<rect x="853.25" y="1022.65" width="65.5" height="63.7" fill="#000" stroke="#000" stroke-width="2.5"/>
</g>
<g id="labels" fill="#000" stroke="#000" stroke-linejoin="round">
<text transform="matrix(0.7481 0 0 0.7825 30.96 73.14)" font-family="'Liberation Sans', sans-serif" font-size="100" stroke-width="1.89">a</text>
<text transform="matrix(0.7848 0 0 0.7600 22.89 967.24)" font-family="'Liberation Sans', sans-serif" font-size="100" stroke-width="1.87">b</text>
<text transform="matrix(0.8311 0 0 0.7544 1260.11 967.99)" font-family="'Liberation Sans', sans-serif" font-size="100" stroke-width="1.82">c</text>
<text transform="matrix(0.8128 0 0 0.7303 15.26 1985.04)" font-family="'Liberation Sans', sans-serif" font-size="100" stroke-width="1.88">d</text>
<text transform="matrix(0.8143 0 0 0.7456 1260.16 1987.51)" font-family="'Liberation Sans', sans-serif" font-size="100" stroke-width="1.85">e</text>
<text transform="matrix(0.6361 0 0 0.6775 576.84 74.12)" font-family="'Liberation Sans', sans-serif" font-size="100" stroke-width="2.23">WT</text>
<text transform="matrix(0.6534 0 0 0.6645 799.63 74.67)" font-family="'Liberation Sans', sans-serif" font-size="100" stroke-width="2.24">Line2</text>
<text transform="matrix(0.6603 0 0 0.6645 1066.38 74.67)" font-family="'Liberation Sans', sans-serif" font-size="100" stroke-width="2.23">Line6</text>
<text transform="matrix(0.6290 0 0 0.6775 1409.93 73.72)" font-family="'Liberation Sans', sans-serif" font-size="100" stroke-width="2.24">WT</text>
<text transform="matrix(0.6560 0 0 0.6645 1722.41 74.67)" font-family="'Liberation Sans', sans-serif" font-size="100" stroke-width="2.23">Line2</text>
<text transform="matrix(0.6624 0 0 0.6645 2078.36 74.67)" font-family="'Liberation Sans', sans-serif" font-size="100" stroke-width="2.22">Line6</text>
<text transform="matrix(0.6534 0 0 0.6566 202.89 258.19)" font-family="'Liberation Sans', sans-serif" font-size="100" stroke-width="2.25">Control</text>
<text transform="matrix(0.6614 0 0 0.6781 220.35 414.14)" font-family="'Liberation Sans', sans-serif" font-size="100" stroke-width="2.2">250 mM</text>
<text transform="matrix(0.6534 0 0 0.6711 201.93 492.16)" font-family="'Liberation Sans', sans-serif" font-size="100" stroke-width="2.23">Mannitol</text>
<text transform="matrix(0.6513 0 0 0.6712 205.04 647.66)" font-family="'Liberation Sans', sans-serif" font-size="100" stroke-width="2.23">150 mM</text>
<text transform="matrix(0.6619 0 0 0.6579 238.37 725.18)" font-family="'Liberation Sans', sans-serif" font-size="100" stroke-width="2.23">NaCl</text>
<text transform="matrix(0.7188 0 0 0.7672 857.28 896.23)" font-family="'Liberation Serif', serif" font-size="100" font-weight="bold" stroke-width="0.53">DAB</text>
<text transform="matrix(0.7143 0 0 0.8030 1757.57 896.7)" font-family="'Liberation Serif', serif" font-size="100" font-weight="bold" stroke-width="0.52">NBT</text>
<text transform="matrix(0.5875 0 0 0.5288 229.45 1025.54)" font-family="'Liberation Sans', sans-serif" font-size="100" stroke-width="2.6">6</text>
<text transform="matrix(0.5400 0 0 0.5278 230.88 1144.94)" font-family="'Liberation Sans', sans-serif" font-size="100" stroke-width="2.69">5</text>
<text transform="matrix(0.5377 0 0 0.5347 230.96 1281.97)" font-family="'Liberation Sans', sans-serif" font-size="100" stroke-width="2.67">4</text>
<text transform="matrix(0.5400 0 0 0.5205 230.88 1409.96)" font-family="'Liberation Sans', sans-serif" font-size="100" stroke-width="2.71">3</text>
<text transform="matrix(0.5542 0 0 0.5444 233.08 1533.46)" font-family="'Liberation Sans', sans-serif" font-size="100" stroke-width="2.64">2</text>
<text transform="matrix(0.3304 0 0 0.5274 235.82 1657.85)" font-family="'Liberation Sans', sans-serif" font-size="100" stroke-width="3.38">1</text>
<text transform="matrix(0.5240 0 0 0.5137 234.83 1772.47)" font-family="'Liberation Sans', sans-serif" font-size="100" stroke-width="2.79">0</text>
<text transform="matrix(0.6167 0 0 0.5750 439.42 1074.75)" font-family="'Liberation Sans', sans-serif" font-size="100" stroke-width="2.43">WT</text>
<text transform="matrix(0.6416 0 0 0.5618 656.21 1075.38)" font-family="'Liberation Sans', sans-serif" font-size="100" stroke-width="2.45">Line 2</text>
<text transform="matrix(0.6431 0 0 0.5618 932.9 1075.38)" font-family="'Liberation Sans', sans-serif" font-size="100" stroke-width="2.45">Line 6</text>
<text transform="matrix(0.6601 0 0 0.6395 368.26 1849.22)" font-family="'Liberation Sans', sans-serif" font-size="100" stroke-width="2.27">Control</text>
<text transform="matrix(0.6586 0 0 0.6575 613.37 1849.18)" font-family="'Liberation Sans', sans-serif" font-size="100" stroke-width="2.24">250 mM</text>
<text transform="matrix(0.6526 0 0 0.6421 622.43 1926.22)" font-family="'Liberation Sans', sans-serif" font-size="100" stroke-width="2.28">Mannitol</text>
<text transform="matrix(0.6484 0 0 0.6575 905.46 1849.18)" font-family="'Liberation Sans', sans-serif" font-size="100" stroke-width="2.26">150 mM</text>
<text transform="matrix(0.6524 0 0 0.6421 956.93 1926.22)" font-family="'Liberation Sans', sans-serif" font-size="100" stroke-width="2.28">NaCl</text>
<text transform="matrix(0.4125 0 0 0.5417 732.49 1318.26)" font-family="'Liberation Serif', serif" font-size="100" stroke="none">*</text>
<text transform="matrix(0.4125 0 0 0.5417 796.19 1293.46)" font-family="'Liberation Serif', serif" font-size="100" stroke="none">*</text>
<text transform="matrix(0.4125 0 0 0.5417 1017.69 1584.26)" font-family="'Liberation Serif', serif" font-size="100" stroke="none">*</text>
<text transform="matrix(0.4125 0 0 0.5417 1076.09 1485.86)" font-family="'Liberation Serif', serif" font-size="100" stroke="none">*</text>
<text transform="matrix(0 -0.6495 0.6812 0 172.9 1815.95)" font-family="'Liberation Sans', sans-serif" font-size="100" stroke-width="2.21">H<tspan font-size="84">2</tspan>O<tspan font-size="84">2</tspan> content (mmol gprot<tspan font-size="74" dy="-40"> -1</tspan><tspan dy="40">)</tspan></text>
<text transform="matrix(0.5227 0 0 0.5288 1403.11 1025.64)" font-family="'Liberation Sans', sans-serif" font-size="100" stroke-width="2.79">2.5</text>
<text transform="matrix(0.5241 0 0 0.5288 1405.9 1180.64)" font-family="'Liberation Sans', sans-serif" font-size="100" stroke-width="2.78">2.0</text>
<text transform="matrix(0.4769 0 0 0.5181 1409.34 1328.66)" font-family="'Liberation Sans', sans-serif" font-size="100" stroke-width="2.94">1.5</text>
<text transform="matrix(0.4863 0 0 0.5205 1407.58 1489.16)" font-family="'Liberation Sans', sans-serif" font-size="100" stroke-width="2.9">1.0</text>
<text transform="matrix(0.5188 0 0 0.5342 1403.64 1638.43)" font-family="'Liberation Sans', sans-serif" font-size="100" stroke-width="2.79">0.5</text>
<text transform="matrix(0.5149 0 0 0.5151 1407.16 1771.87)" font-family="'Liberation Sans', sans-serif" font-size="100" stroke-width="2.84">0.0</text>
<text transform="matrix(0.6556 0 0 0.6408 1570.68 1848.22)" font-family="'Liberation Sans', sans-serif" font-size="100" stroke-width="2.28">Control</text>
<text transform="matrix(0.6571 0 0 0.6644 1872.17 1848.67)" font-family="'Liberation Sans', sans-serif" font-size="100" stroke-width="2.23">250 mM</text>
<text transform="matrix(0.6595 0 0 0.6421 1878.98 1926.22)" font-family="'Liberation Sans', sans-serif" font-size="100" stroke-width="2.27">Mannitol</text>
<text transform="matrix(0.6476 0 0 0.6644 2148.07 1848.67)" font-family="'Liberation Sans', sans-serif" font-size="100" stroke-width="2.25">150 mM</text>
<text transform="matrix(0.6552 0 0 0.6421 2200.41 1926.22)" font-family="'Liberation Sans', sans-serif" font-size="100" stroke-width="2.27">NaCl</text>
<text transform="matrix(0.4125 0 0 0.5417 1945.89 1226.26)" font-family="'Liberation Serif', serif" font-size="100" stroke="none">*</text>
<text transform="matrix(0.4135 0 0 0.5417 1994.38 1313.66)" font-family="'Liberation Serif', serif" font-size="100" stroke="none" letter-spacing="6.2">**</text>
<text transform="matrix(0.4135 0 0 0.5417 2212.08 1334.16)" font-family="'Liberation Serif', serif" font-size="100" stroke="none" letter-spacing="6.2">**</text>
<text transform="matrix(0.4125 0 0 0.5417 2282.09 1307.66)" font-family="'Liberation Serif', serif" font-size="100" stroke="none">*</text>
<text transform="matrix(0 -0.6498 0.6667 0 1371.1 1829.45)" font-family="'Liberation Sans', sans-serif" font-size="100" stroke-width="2.23">MDA content (nmol mgprot<tspan font-size="74" dy="-40"> -1</tspan><tspan dy="40">)</tspan></text>
<text transform="matrix(0.5038 0 0 0.5178 182.78 2031.56)" font-family="'Liberation Sans', sans-serif" font-size="100" stroke-width="2.87">100</text>
<text transform="matrix(0.5113 0 0 0.5219 200.87 2184.76)" font-family="'Liberation Sans', sans-serif" font-size="100" stroke-width="2.82">80</text>
<text transform="matrix(0.5162 0 0 0.5315 200.34 2329.84)" font-family="'Liberation Sans', sans-serif" font-size="100" stroke-width="2.78">60</text>
<text transform="matrix(0.5083 0 0 0.5329 201.19 2478.63)" font-family="'Liberation Sans', sans-serif" font-size="100" stroke-width="2.8">40</text>
<text transform="matrix(0.5162 0 0 0.5425 200.34 2641.42)" font-family="'Liberation Sans', sans-serif" font-size="100" stroke-width="2.76">20</text>
<text transform="matrix(0.5300 0 0 0.5219 226.71 2775.16)" font-family="'Liberation Sans', sans-serif" font-size="100" stroke-width="2.76">0</text>
<text transform="matrix(0.6537 0 0 0.6579 373.19 2848.48)" font-family="'Liberation Sans', sans-serif" font-size="100" stroke-width="2.25">Control</text>
<text transform="matrix(0.6586 0 0 0.6753 616.87 2848.45)" font-family="'Liberation Sans', sans-serif" font-size="100" stroke-width="2.21">250 mM</text>
<text transform="matrix(0.6575 0 0 0.6461 624.2 2926.21)" font-family="'Liberation Sans', sans-serif" font-size="100" stroke-width="2.26">Mannitol</text>
<text transform="matrix(0.6524 0 0 0.6753 907.43 2848.45)" font-family="'Liberation Sans', sans-serif" font-size="100" stroke-width="2.22">150 mM</text>
<text transform="matrix(0.6524 0 0 0.6461 960.43 2926.21)" font-family="'Liberation Sans', sans-serif" font-size="100" stroke-width="2.27">NaCl</text>
<text transform="matrix(0.4135 0 0 0.5417 722.98 2205.46)" font-family="'Liberation Serif', serif" font-size="100" stroke="none" letter-spacing="6.2">**</text>
<text transform="matrix(0.4125 0 0 0.5417 796.19 2230.26)" font-family="'Liberation Serif', serif" font-size="100" stroke="none">*</text>
<text transform="matrix(0.4125 0 0 0.5417 1076.09 2119.86)" font-family="'Liberation Serif', serif" font-size="100" stroke="none">*</text>
<text transform="matrix(0 -0.6501 0.6667 0 155.2 2788.2)" font-family="'Liberation Sans', sans-serif" font-size="100" stroke-width="2.23">SOD activity (U mgprot<tspan font-size="74" dy="-40"> -1</tspan><tspan dy="40">)</tspan></text>
<text transform="matrix(0.5176 0 0 0.5301 1402.88 2049.14)" font-family="'Liberation Sans', sans-serif" font-size="100" stroke-width="2.78">40</text>
<text transform="matrix(0.5131 0 0 0.5288 1407.67 2230.64)" font-family="'Liberation Sans', sans-serif" font-size="100" stroke-width="2.79">30</text>
<text transform="matrix(0.5295 0 0 0.5342 1405.88 2408.63)" font-family="'Liberation Sans', sans-serif" font-size="100" stroke-width="2.74">20</text>
<text transform="matrix(0.4990 0 0 0.5301 1409.21 2598.84)" font-family="'Liberation Sans', sans-serif" font-size="100" stroke-width="2.82">10</text>
<text transform="matrix(0.5240 0 0 0.5110 1440.03 2781.48)" font-family="'Liberation Sans', sans-serif" font-size="100" stroke-width="2.8">0</text>
<text transform="matrix(0.6556 0 0 0.6579 1568.88 2854.48)" font-family="'Liberation Sans', sans-serif" font-size="100" stroke-width="2.25">Control</text>
<text transform="matrix(0.6629 0 0 0.6753 1816.35 2854.45)" font-family="'Liberation Sans', sans-serif" font-size="100" stroke-width="2.2">250 mM</text>
<text transform="matrix(0.6584 0 0 0.6487 1805.79 2932.7)" font-family="'Liberation Sans', sans-serif" font-size="100" stroke-width="2.26">Mannitol</text>
<text transform="matrix(0.6516 0 0 0.6753 2110.14 2854.45)" font-family="'Liberation Sans', sans-serif" font-size="100" stroke-width="2.22">150 mM</text>
<text transform="matrix(0.6610 0 0 0.6487 2144.37 2932.7)" font-family="'Liberation Sans', sans-serif" font-size="100" stroke-width="2.25">NaCl</text>
<text transform="matrix(0.4125 0 0 0.5417 1924.59 2190.26)" font-family="'Liberation Serif', serif" font-size="100" stroke="none">*</text>
<text transform="matrix(0.4125 0 0 0.5417 1986.59 2180.76)" font-family="'Liberation Serif', serif" font-size="100" stroke="none">*</text>
<text transform="matrix(0.4125 0 0 0.5417 2207.69 2133.66)" font-family="'Liberation Serif', serif" font-size="100" stroke="none">*</text>
<text transform="matrix(0.4135 0 0 0.5417 2253.78 2086.96)" font-family="'Liberation Serif', serif" font-size="100" stroke="none" letter-spacing="6.2">**</text>
<text transform="matrix(0 -0.6484 0.6841 0 1379.9 2787.34)" font-family="'Liberation Sans', sans-serif" font-size="100" stroke-width="2.21">POD activity (U&#160; mgprot<tspan font-size="74" dy="-40"> -1</tspan><tspan dy="40">)</tspan></text>
</g></svg>
</body></html>
